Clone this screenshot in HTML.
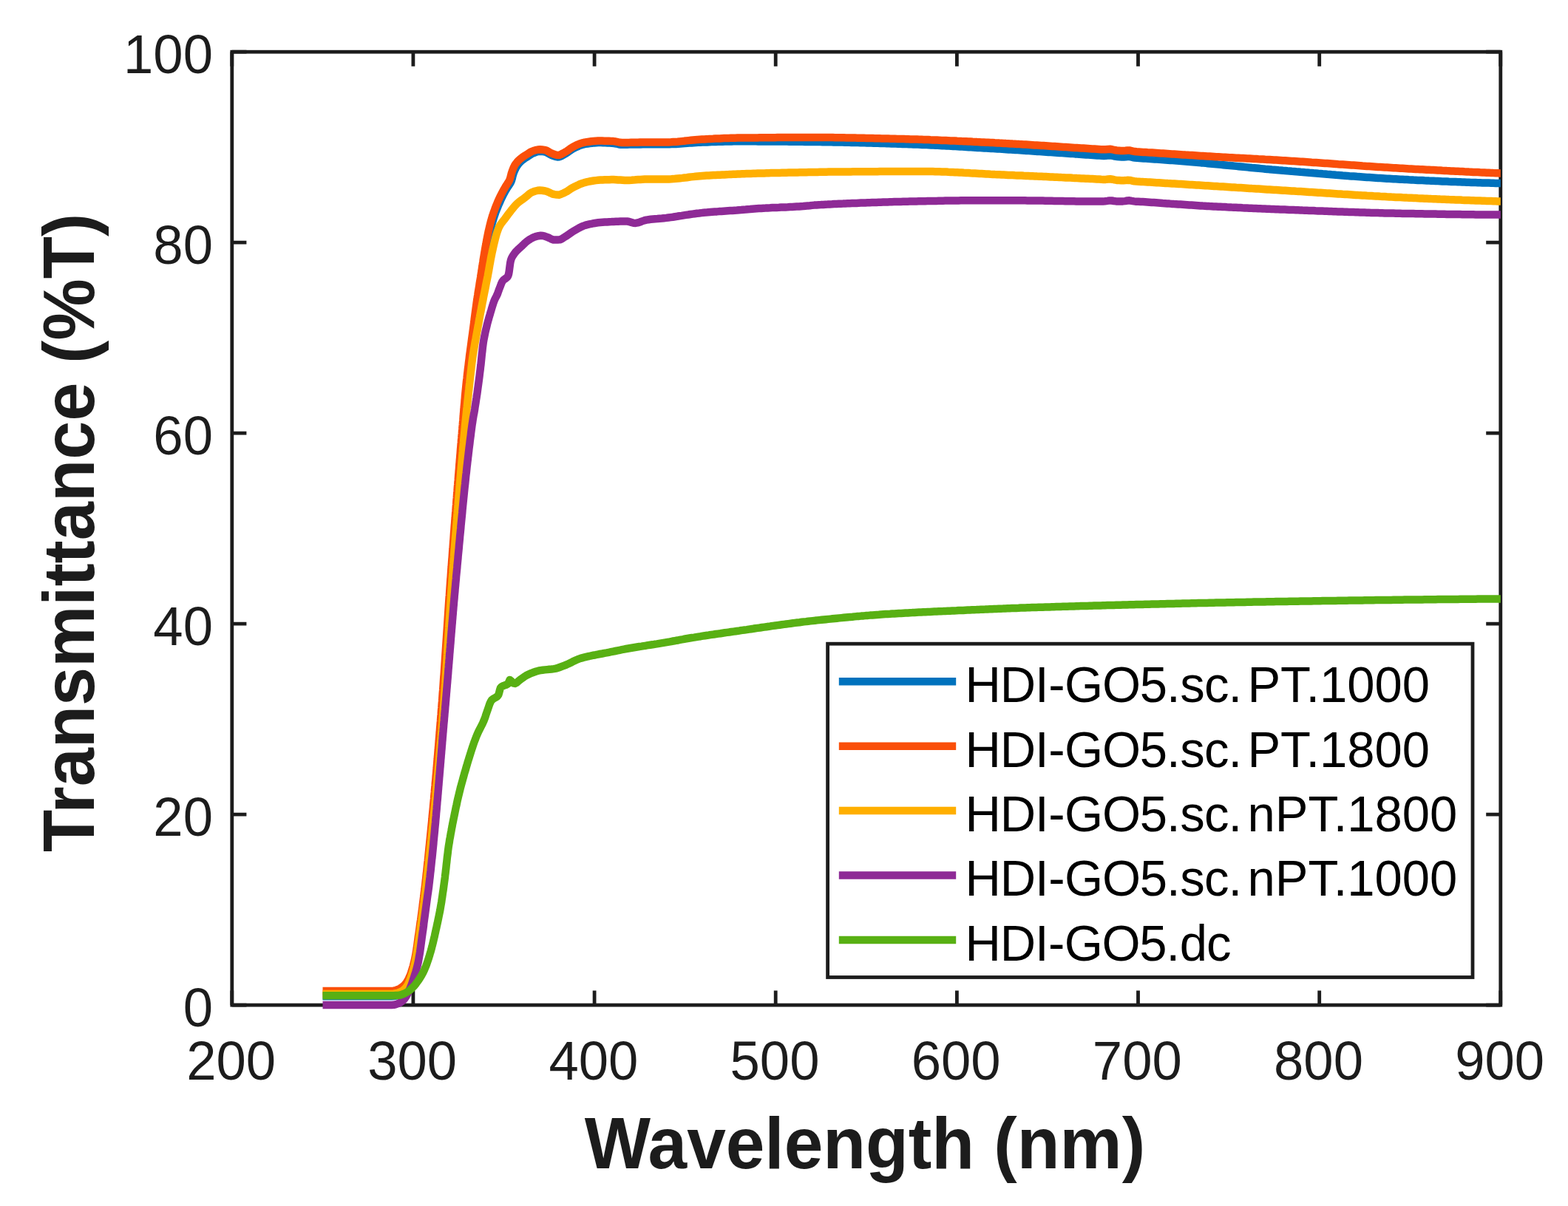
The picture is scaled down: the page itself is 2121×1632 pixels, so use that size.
<!DOCTYPE html>
<html lang="en">
<head>
<meta charset="utf-8">
<title>Transmittance vs Wavelength</title>
<style>
html,body{margin:0;padding:0;background:#fff;}
body{width:2121px;height:1632px;overflow:hidden;}
svg{display:block;}
text{font-family:"Liberation Sans",Arial,Helvetica,sans-serif;}
.tk{font-size:72.5px;fill:#1c1c1c;}
.lab{font-size:94.3px;font-weight:bold;fill:#1c1c1c;}
.leg{font-size:67.0px;fill:#000;}
</style>
</head>
<body>
<svg width="2121" height="1632" viewBox="0 0 2121 1632">
<rect x="0" y="0" width="2121" height="1632" fill="#ffffff"/>
<defs><clipPath id="plot"><rect x="313.8" y="50.2" width="1716.0" height="1329.9"/></clipPath></defs>

<g stroke="#1c1c1c" stroke-width="4.8" fill="none" stroke-linecap="butt">
<rect x="313.8" y="70.2" width="1716.0" height="1289.9"/>
<path d="M313.8,1360.1 v-19.6 M313.8,70.2 v19.6 M558.9,1360.1 v-19.6 M558.9,70.2 v19.6 M804.1,1360.1 v-19.6 M804.1,70.2 v19.6 M1049.2,1360.1 v-19.6 M1049.2,70.2 v19.6 M1294.4,1360.1 v-19.6 M1294.4,70.2 v19.6 M1539.5,1360.1 v-19.6 M1539.5,70.2 v19.6 M1784.7,1360.1 v-19.6 M1784.7,70.2 v19.6 M2029.8,1360.1 v-19.6 M2029.8,70.2 v19.6 M313.8,1360.1 h19.6 M2029.8,1360.1 h-19.6 M313.8,1102.1 h19.6 M2029.8,1102.1 h-19.6 M313.8,844.1 h19.6 M2029.8,844.1 h-19.6 M313.8,586.2 h19.6 M2029.8,586.2 h-19.6 M313.8,328.2 h19.6 M2029.8,328.2 h-19.6 M313.8,70.2 h19.6 M2029.8,70.2 h-19.6"/>
</g>
<g clip-path="url(#plot)" fill="none" stroke-width="10.5" stroke-linejoin="round" stroke-linecap="butt">
<path stroke="#0072bd" d="M436.5,1348.2 L439.5,1348.2 L442.5,1348.2 L445.5,1348.2 L448.5,1348.2 L451.5,1348.2 L454.5,1348.2 L457.5,1348.2 L460.5,1348.2 L463.5,1348.2 L466.5,1348.2 L469.5,1348.2 L472.5,1348.2 L475.5,1348.2 L478.5,1348.2 L481.5,1348.2 L484.5,1348.2 L487.5,1348.2 L490.5,1348.2 L493.6,1348.2 L496.6,1348.2 L499.6,1348.2 L502.6,1348.2 L505.6,1348.2 L508.6,1348.2 L511.6,1348.2 L514.6,1348.2 L517.6,1348.2 L520.6,1348.2 L523.6,1348.2 L526.6,1348.2 L529.5,1348.2 L532.6,1348.0 L535.6,1347.5 L538.6,1346.8 L541.3,1345.9 L543.9,1344.5 L546.3,1342.6 L548.6,1340.4 L550.4,1338.1 L552.0,1335.7 L553.4,1333.1 L554.6,1330.3 L555.7,1327.4 L556.7,1324.4 L557.6,1321.6 L558.5,1318.7 L559.3,1315.8 L560.0,1312.9 L560.7,1310.0 L561.3,1307.1 L561.9,1304.1 L562.5,1301.1 L563.1,1298.2 L563.6,1295.2 L564.2,1292.3 L564.7,1289.3 L565.1,1286.4 L565.6,1283.4 L566.1,1280.4 L566.5,1277.5 L566.9,1274.5 L567.3,1271.5 L567.7,1268.5 L568.2,1265.6 L568.6,1262.6 L569.0,1259.6 L569.4,1256.7 L569.8,1253.7 L570.3,1250.7 L570.7,1247.7 L571.1,1244.8 L571.5,1241.8 L571.9,1238.8 L572.3,1235.8 L572.7,1232.9 L573.1,1229.9 L573.5,1226.9 L573.9,1223.9 L574.3,1221.0 L574.6,1218.0 L575.0,1215.0 L575.4,1212.0 L575.8,1209.0 L576.1,1206.1 L576.5,1203.1 L576.8,1200.1 L577.2,1197.1 L577.5,1194.2 L577.9,1191.2 L578.2,1188.2 L578.5,1185.2 L578.9,1182.2 L579.2,1179.2 L579.5,1176.3 L579.8,1173.3 L580.1,1170.3 L580.5,1167.3 L580.8,1164.3 L581.1,1161.3 L581.4,1158.4 L581.7,1155.4 L582.0,1152.4 L582.3,1149.4 L582.6,1146.4 L583.0,1143.4 L583.3,1140.5 L583.6,1137.5 L583.9,1134.5 L584.2,1131.5 L584.4,1128.5 L584.7,1125.5 L585.0,1122.5 L585.3,1119.5 L585.6,1116.6 L585.9,1113.6 L586.2,1110.6 L586.5,1107.6 L586.8,1104.6 L587.0,1101.6 L587.3,1098.6 L587.6,1095.6 L587.9,1092.7 L588.2,1089.7 L588.4,1086.7 L588.7,1083.7 L589.0,1080.7 L589.3,1077.7 L589.5,1074.7 L589.8,1071.7 L590.1,1068.7 L590.3,1065.7 L590.6,1062.8 L590.9,1059.8 L591.1,1056.8 L591.4,1053.8 L591.7,1050.8 L591.9,1047.8 L592.2,1044.8 L592.4,1041.8 L592.7,1038.8 L592.9,1035.8 L593.2,1032.9 L593.5,1029.9 L593.7,1026.9 L594.0,1023.9 L594.2,1020.9 L594.5,1017.9 L594.7,1014.9 L595.0,1011.9 L595.2,1008.9 L595.5,1005.9 L595.7,1002.9 L595.9,999.9 L596.2,997.0 L596.4,994.0 L596.7,991.0 L596.9,988.0 L597.2,985.0 L597.4,982.0 L597.6,979.0 L597.9,976.0 L598.1,973.0 L598.4,970.0 L598.6,967.0 L598.8,964.1 L599.1,961.1 L599.3,958.1 L599.5,955.1 L599.7,952.1 L600.0,949.1 L600.2,946.1 L600.4,943.1 L600.6,940.1 L600.9,937.1 L601.1,934.1 L601.3,931.1 L601.5,928.1 L601.7,925.1 L601.9,922.2 L602.1,919.2 L602.4,916.2 L602.6,913.2 L602.8,910.2 L603.0,907.2 L603.2,904.2 L603.4,901.2 L603.6,898.2 L603.8,895.2 L604.0,892.2 L604.2,889.2 L604.4,886.2 L604.6,883.2 L604.8,880.2 L605.0,877.2 L605.2,874.2 L605.4,871.3 L605.6,868.3 L605.8,865.3 L606.0,862.3 L606.2,859.3 L606.4,856.3 L606.6,853.3 L606.8,850.3 L607.0,847.3 L607.2,844.3 L607.4,841.3 L607.6,838.3 L607.8,835.3 L608.0,832.3 L608.2,829.3 L608.4,826.3 L608.6,823.3 L608.8,820.3 L609.0,817.4 L609.2,814.4 L609.4,811.4 L609.6,808.4 L609.9,805.4 L610.1,802.4 L610.3,799.4 L610.5,796.4 L610.7,793.4 L610.9,790.4 L611.1,787.4 L611.3,784.4 L611.6,781.4 L611.8,778.4 L612.0,775.4 L612.2,772.4 L612.4,769.5 L612.7,766.5 L612.9,763.5 L613.1,760.5 L613.3,757.5 L613.5,754.5 L613.8,751.5 L614.0,748.5 L614.2,745.5 L614.4,742.5 L614.7,739.5 L614.9,736.5 L615.1,733.5 L615.3,730.5 L615.5,727.6 L615.8,724.6 L616.0,721.6 L616.2,718.6 L616.4,715.6 L616.7,712.6 L616.9,709.6 L617.1,706.6 L617.3,703.6 L617.6,700.6 L617.8,697.6 L618.0,694.6 L618.2,691.6 L618.5,688.6 L618.7,685.7 L618.9,682.7 L619.1,679.7 L619.4,676.7 L619.6,673.7 L619.8,670.7 L620.1,667.7 L620.3,664.7 L620.5,661.7 L620.8,658.7 L621.0,655.7 L621.2,652.7 L621.5,649.7 L621.7,646.8 L622.0,643.8 L622.2,640.8 L622.4,637.8 L622.7,634.8 L622.9,631.8 L623.2,628.8 L623.4,625.8 L623.6,622.8 L623.9,619.8 L624.1,616.8 L624.4,613.8 L624.6,610.9 L624.9,607.9 L625.1,604.9 L625.4,601.9 L625.6,598.9 L625.9,595.9 L626.2,592.9 L626.4,589.9 L626.7,586.9 L626.9,583.9 L627.2,581.0 L627.5,578.0 L627.7,575.0 L628.0,572.0 L628.3,569.0 L628.5,566.0 L628.8,563.0 L629.1,560.0 L629.4,557.0 L629.6,554.1 L629.9,551.1 L630.2,548.1 L630.5,545.1 L630.8,542.1 L631.1,539.1 L631.3,536.1 L631.6,533.1 L631.9,530.2 L632.2,527.2 L632.5,524.2 L632.8,521.2 L633.1,518.2 L633.4,515.2 L633.7,512.2 L634.1,509.3 L634.4,506.3 L634.7,503.3 L635.0,500.3 L635.3,497.3 L635.7,494.3 L636.0,491.4 L636.3,488.4 L636.7,485.4 L637.0,482.4 L637.4,479.4 L637.7,476.5 L638.1,473.5 L638.4,470.5 L638.8,467.5 L639.2,464.5 L639.5,461.6 L639.9,458.6 L640.3,455.6 L640.7,452.6 L641.1,449.7 L641.5,446.7 L641.9,443.7 L642.3,440.7 L642.7,437.8 L643.1,434.8 L643.5,431.8 L643.9,428.8 L644.3,425.9 L644.8,422.9 L645.2,419.9 L645.6,416.9 L646.1,414.0 L646.5,411.0 L646.9,408.0 L647.4,405.1 L647.8,402.1 L648.3,399.1 L648.7,396.2 L649.2,393.2 L649.7,390.2 L650.2,387.3 L650.7,384.3 L651.1,381.4 L651.6,378.4 L652.1,375.4 L652.6,372.5 L653.1,369.5 L653.5,366.5 L654.0,363.6 L654.4,360.6 L654.9,357.6 L655.4,354.7 L655.8,351.7 L656.3,348.7 L656.8,345.8 L657.3,342.8 L657.8,339.9 L658.3,336.9 L658.9,334.0 L659.4,331.0 L660.0,328.1 L660.6,325.1 L661.2,322.2 L661.8,319.2 L662.4,316.3 L663.0,313.3 L663.7,310.4 L664.4,307.5 L665.1,304.6 L665.9,301.7 L666.7,298.8 L667.5,296.0 L668.5,293.1 L669.4,290.3 L670.4,287.4 L671.5,284.6 L672.6,281.8 L673.7,279.0 L674.9,276.2 L676.1,273.5 L677.3,270.7 L678.6,268.0 L679.9,265.4 L681.3,262.7 L682.7,260.0 L684.2,257.4 L685.7,254.8 L687.4,252.3 L689.1,249.8 L690.7,247.2 L691.8,244.6 L692.7,241.7 L693.4,238.7 L694.2,235.8 L695.2,233.0 L696.4,230.2 L697.7,227.5 L699.2,224.9 L700.9,222.5 L702.9,220.1 L705.0,218.0 L707.3,216.1 L709.7,214.4 L712.3,212.8 L714.8,211.1 L717.3,209.5 L719.9,207.9 L722.7,206.8 L725.5,205.7 L728.4,204.9 L731.4,204.8 L734.4,205.1 L737.4,205.6 L740.1,206.6 L742.7,208.1 L745.4,209.6 L748.2,210.8 L751.1,211.8 L754.0,212.4 L756.9,212.2 L759.7,211.1 L762.4,209.5 L765.0,208.0 L767.5,206.4 L770.0,204.6 L772.5,202.9 L775.0,201.3 L777.6,199.9 L780.4,198.7 L783.2,197.4 L786.0,196.4 L788.9,195.5 L791.8,194.9 L794.7,194.5 L797.7,194.0 L800.7,193.7 L803.7,193.4 L806.7,193.2 L809.7,193.1 L812.7,193.1 L815.7,193.2 L818.7,193.3 L821.7,193.4 L824.7,193.5 L827.7,193.7 L830.7,194.0 L833.6,194.5 L836.6,195.2 L839.6,195.7 L842.5,195.7 L845.5,195.7 L848.5,195.7 L851.5,195.6 L854.5,195.6 L857.5,195.5 L860.5,195.5 L863.5,195.4 L866.5,195.4 L869.5,195.3 L872.6,195.3 L875.6,195.3 L878.6,195.3 L881.6,195.3 L884.6,195.3 L887.6,195.3 L890.6,195.3 L893.6,195.3 L896.6,195.3 L899.6,195.3 L902.6,195.3 L905.6,195.2 L908.6,195.1 L911.6,195.0 L914.6,194.9 L917.5,194.7 L920.5,194.5 L923.5,194.3 L926.5,194.1 L929.5,193.8 L932.5,193.6 L935.5,193.4 L938.5,193.2 L941.5,193.0 L944.5,192.8 L947.5,192.7 L950.5,192.6 L953.5,192.5 L956.5,192.4 L959.5,192.3 L962.5,192.1 L965.5,192.0 L968.5,191.9 L971.5,191.8 L974.5,191.7 L977.5,191.7 L980.5,191.6 L983.5,191.5 L986.5,191.4 L989.5,191.4 L992.5,191.3 L995.5,191.3 L998.5,191.3 L1001.5,191.3 L1004.5,191.3 L1007.5,191.3 L1010.5,191.3 L1013.5,191.3 L1016.5,191.3 L1019.5,191.3 L1022.5,191.3 L1025.5,191.4 L1028.5,191.4 L1031.5,191.4 L1034.5,191.4 L1037.5,191.4 L1040.5,191.4 L1043.5,191.5 L1046.5,191.5 L1049.5,191.5 L1052.5,191.5 L1055.5,191.6 L1058.5,191.6 L1061.5,191.6 L1064.5,191.6 L1067.5,191.7 L1070.5,191.7 L1073.5,191.7 L1076.5,191.8 L1079.5,191.8 L1082.5,191.8 L1085.5,191.8 L1088.5,191.9 L1091.5,191.9 L1094.5,191.9 L1097.5,192.0 L1100.5,192.0 L1103.5,192.0 L1106.5,192.1 L1109.6,192.1 L1112.6,192.2 L1115.6,192.2 L1118.6,192.2 L1121.6,192.3 L1124.6,192.3 L1127.6,192.4 L1130.6,192.5 L1133.6,192.5 L1136.6,192.6 L1139.6,192.6 L1142.6,192.7 L1145.6,192.8 L1148.6,192.8 L1151.6,192.9 L1154.6,193.0 L1157.6,193.0 L1160.6,193.1 L1163.6,193.2 L1166.6,193.3 L1169.6,193.3 L1172.6,193.4 L1175.6,193.5 L1178.6,193.6 L1181.6,193.7 L1184.6,193.7 L1187.6,193.8 L1190.6,193.9 L1193.6,194.0 L1196.6,194.1 L1199.6,194.2 L1202.6,194.3 L1205.6,194.4 L1208.6,194.5 L1211.6,194.6 L1214.6,194.7 L1217.6,194.8 L1220.6,194.9 L1223.6,195.0 L1226.6,195.1 L1229.6,195.2 L1232.6,195.3 L1235.6,195.4 L1238.6,195.5 L1241.5,195.6 L1244.5,195.7 L1247.5,195.9 L1250.5,196.0 L1253.5,196.1 L1256.5,196.3 L1259.5,196.4 L1262.5,196.6 L1265.5,196.7 L1268.5,196.8 L1271.5,197.0 L1274.5,197.2 L1277.5,197.3 L1280.5,197.5 L1283.5,197.6 L1286.5,197.8 L1289.5,198.0 L1292.5,198.1 L1295.5,198.3 L1298.5,198.5 L1301.5,198.6 L1304.5,198.8 L1307.5,199.0 L1310.5,199.2 L1313.5,199.3 L1316.5,199.5 L1319.5,199.7 L1322.5,199.9 L1325.5,200.1 L1328.5,200.2 L1331.5,200.4 L1334.5,200.6 L1337.5,200.8 L1340.4,200.9 L1343.4,201.1 L1346.4,201.3 L1349.4,201.5 L1352.4,201.6 L1355.4,201.8 L1358.4,202.0 L1361.4,202.2 L1364.4,202.4 L1367.4,202.5 L1370.4,202.7 L1373.4,202.9 L1376.4,203.1 L1379.4,203.3 L1382.4,203.5 L1385.4,203.7 L1388.4,203.9 L1391.4,204.1 L1394.4,204.3 L1397.4,204.5 L1400.4,204.7 L1403.3,204.9 L1406.3,205.1 L1409.3,205.3 L1412.3,205.5 L1415.3,205.7 L1418.3,205.9 L1421.3,206.1 L1424.3,206.3 L1427.3,206.5 L1430.3,206.7 L1433.3,206.9 L1436.3,207.1 L1439.3,207.3 L1442.3,207.5 L1445.3,207.7 L1448.3,207.9 L1451.3,208.1 L1454.3,208.4 L1457.2,208.6 L1460.2,208.8 L1463.2,209.0 L1466.2,209.2 L1469.2,209.4 L1472.2,209.6 L1475.2,209.8 L1478.2,210.0 L1481.2,210.2 L1484.2,210.4 L1487.2,210.5 L1490.2,210.7 L1493.2,210.9 L1496.2,210.8 L1499.2,210.4 L1502.2,210.3 L1505.2,210.9 L1508.2,211.6 L1511.2,212.0 L1514.1,212.3 L1517.1,212.4 L1520.1,212.5 L1523.1,212.2 L1526.1,211.9 L1529.1,212.2 L1532.1,213.0 L1535.1,213.5 L1538.1,213.8 L1541.1,214.0 L1544.1,214.2 L1547.1,214.4 L1550.1,214.6 L1553.1,214.8 L1556.1,215.0 L1559.1,215.2 L1562.1,215.4 L1565.1,215.6 L1568.1,215.8 L1571.0,216.0 L1574.0,216.2 L1577.0,216.5 L1580.0,216.7 L1583.0,216.9 L1586.0,217.1 L1589.0,217.3 L1592.0,217.6 L1595.0,217.8 L1598.0,218.0 L1601.0,218.3 L1604.0,218.5 L1606.9,218.8 L1609.9,219.0 L1612.9,219.3 L1615.9,219.6 L1618.9,219.8 L1621.9,220.1 L1624.9,220.4 L1627.9,220.6 L1630.9,220.9 L1633.8,221.2 L1636.8,221.5 L1639.8,221.7 L1642.8,222.0 L1645.8,222.3 L1648.8,222.6 L1651.8,222.9 L1654.8,223.2 L1657.8,223.5 L1660.7,223.8 L1663.7,224.0 L1666.7,224.3 L1669.7,224.6 L1672.7,224.9 L1675.7,225.2 L1678.7,225.5 L1681.6,225.8 L1684.6,226.1 L1687.6,226.4 L1690.6,226.7 L1693.6,227.0 L1696.6,227.2 L1699.6,227.5 L1702.6,227.8 L1705.6,228.1 L1708.5,228.4 L1711.5,228.7 L1714.5,228.9 L1717.5,229.2 L1720.5,229.5 L1723.5,229.7 L1726.5,230.0 L1729.5,230.3 L1732.5,230.5 L1735.4,230.8 L1738.4,231.0 L1741.4,231.3 L1744.4,231.5 L1747.4,231.8 L1750.4,232.0 L1753.4,232.3 L1756.4,232.5 L1759.4,232.8 L1762.4,233.0 L1765.3,233.3 L1768.3,233.5 L1771.3,233.8 L1774.3,234.0 L1777.3,234.3 L1780.3,234.5 L1783.3,234.8 L1786.3,235.0 L1789.3,235.3 L1792.3,235.5 L1795.3,235.8 L1798.3,236.0 L1801.2,236.3 L1804.2,236.5 L1807.2,236.8 L1810.2,237.0 L1813.2,237.2 L1816.2,237.5 L1819.2,237.7 L1822.2,237.9 L1825.2,238.2 L1828.2,238.4 L1831.2,238.6 L1834.2,238.8 L1837.2,239.1 L1840.2,239.3 L1843.1,239.5 L1846.1,239.7 L1849.1,239.9 L1852.1,240.1 L1855.1,240.3 L1858.1,240.5 L1861.1,240.7 L1864.1,240.9 L1867.1,241.1 L1870.1,241.3 L1873.1,241.5 L1876.1,241.7 L1879.1,241.8 L1882.1,242.0 L1885.1,242.2 L1888.1,242.3 L1891.1,242.5 L1894.1,242.7 L1897.1,242.8 L1900.0,243.0 L1903.0,243.1 L1906.0,243.3 L1909.0,243.4 L1912.0,243.6 L1915.0,243.7 L1918.0,243.9 L1921.0,244.0 L1924.0,244.1 L1927.0,244.3 L1930.0,244.4 L1933.0,244.6 L1936.0,244.7 L1939.0,244.8 L1942.0,245.0 L1945.0,245.1 L1948.0,245.2 L1951.0,245.4 L1954.0,245.5 L1957.0,245.6 L1960.0,245.8 L1963.0,245.9 L1966.0,246.0 L1969.0,246.1 L1972.0,246.2 L1975.0,246.3 L1978.0,246.5 L1981.0,246.6 L1984.0,246.7 L1987.0,246.8 L1990.0,246.9 L1993.0,247.0 L1996.0,247.1 L1999.0,247.2 L2002.0,247.3 L2005.0,247.4 L2008.0,247.5 L2011.0,247.6 L2014.0,247.6 L2017.0,247.7 L2020.0,247.8 L2023.0,247.9 L2026.0,248.0 L2029.0,248.0 L2032.0,248.1"/>
<path stroke="#fa4f0a" d="M436.5,1341.0 L439.5,1341.0 L442.5,1341.0 L445.5,1341.0 L448.5,1341.0 L451.5,1341.0 L454.5,1341.0 L457.5,1341.0 L460.5,1341.0 L463.5,1341.0 L466.5,1341.0 L469.5,1341.0 L472.5,1341.0 L475.5,1341.0 L478.5,1341.0 L481.5,1341.0 L484.5,1341.0 L487.5,1341.0 L490.5,1341.0 L493.5,1341.0 L496.6,1341.0 L499.6,1341.0 L502.6,1341.0 L505.6,1341.0 L508.6,1341.0 L511.6,1341.0 L514.6,1341.0 L517.6,1341.0 L520.6,1341.0 L523.6,1341.0 L526.6,1341.0 L529.6,1341.0 L532.6,1340.7 L535.5,1340.0 L538.4,1338.9 L541.0,1337.7 L543.6,1336.0 L546.0,1334.0 L548.1,1331.8 L549.8,1329.6 L551.4,1327.0 L552.8,1324.3 L554.0,1321.5 L555.2,1318.7 L556.2,1315.9 L557.1,1313.0 L558.0,1310.2 L558.9,1307.3 L559.6,1304.3 L560.3,1301.4 L561.0,1298.5 L561.6,1295.5 L562.2,1292.6 L562.7,1289.6 L563.2,1286.7 L563.6,1283.7 L564.1,1280.7 L564.5,1277.8 L564.9,1274.8 L565.3,1271.8 L565.7,1268.8 L566.1,1265.8 L566.6,1262.9 L567.0,1259.9 L567.4,1256.9 L567.8,1254.0 L568.2,1251.0 L568.6,1248.0 L569.1,1245.0 L569.5,1242.1 L569.9,1239.1 L570.3,1236.1 L570.7,1233.1 L571.1,1230.1 L571.5,1227.2 L571.8,1224.2 L572.2,1221.2 L572.6,1218.2 L573.0,1215.3 L573.4,1212.3 L573.7,1209.3 L574.1,1206.3 L574.5,1203.3 L574.8,1200.4 L575.2,1197.4 L575.5,1194.4 L575.8,1191.4 L576.2,1188.4 L576.5,1185.4 L576.8,1182.5 L577.2,1179.5 L577.5,1176.5 L577.8,1173.5 L578.1,1170.5 L578.4,1167.5 L578.8,1164.6 L579.1,1161.6 L579.4,1158.6 L579.7,1155.6 L580.0,1152.6 L580.3,1149.6 L580.6,1146.6 L580.9,1143.7 L581.2,1140.7 L581.5,1137.7 L581.8,1134.7 L582.1,1131.7 L582.4,1128.7 L582.7,1125.7 L583.0,1122.7 L583.3,1119.8 L583.6,1116.8 L583.9,1113.8 L584.2,1110.8 L584.5,1107.8 L584.7,1104.8 L585.0,1101.8 L585.3,1098.8 L585.6,1095.8 L585.9,1092.8 L586.1,1089.9 L586.4,1086.9 L586.7,1083.9 L587.0,1080.9 L587.2,1077.9 L587.5,1074.9 L587.8,1071.9 L588.0,1068.9 L588.3,1065.9 L588.6,1062.9 L588.8,1059.9 L589.1,1057.0 L589.4,1054.0 L589.6,1051.0 L589.9,1048.0 L590.2,1045.0 L590.4,1042.0 L590.7,1039.0 L590.9,1036.0 L591.2,1033.0 L591.4,1030.0 L591.7,1027.0 L591.9,1024.0 L592.2,1021.0 L592.4,1018.1 L592.7,1015.1 L592.9,1012.1 L593.2,1009.1 L593.4,1006.1 L593.7,1003.1 L593.9,1000.1 L594.2,997.1 L594.4,994.1 L594.7,991.1 L594.9,988.1 L595.1,985.1 L595.4,982.1 L595.6,979.1 L595.9,976.2 L596.1,973.2 L596.3,970.2 L596.6,967.2 L596.8,964.2 L597.0,961.2 L597.3,958.2 L597.5,955.2 L597.7,952.2 L598.0,949.2 L598.2,946.2 L598.4,943.2 L598.6,940.2 L598.8,937.2 L599.1,934.2 L599.3,931.3 L599.5,928.3 L599.7,925.3 L599.9,922.3 L600.1,919.3 L600.3,916.3 L600.6,913.3 L600.8,910.3 L601.0,907.3 L601.2,904.3 L601.4,901.3 L601.6,898.3 L601.8,895.3 L602.0,892.3 L602.2,889.3 L602.4,886.3 L602.6,883.3 L602.8,880.3 L603.0,877.3 L603.2,874.3 L603.4,871.3 L603.6,868.3 L603.8,865.3 L604.0,862.4 L604.2,859.4 L604.4,856.4 L604.6,853.4 L604.8,850.4 L605.0,847.4 L605.2,844.4 L605.4,841.4 L605.6,838.4 L605.8,835.4 L606.0,832.4 L606.2,829.4 L606.4,826.4 L606.6,823.4 L606.8,820.4 L607.0,817.4 L607.2,814.4 L607.4,811.4 L607.6,808.4 L607.9,805.4 L608.1,802.4 L608.3,799.4 L608.5,796.4 L608.7,793.4 L608.9,790.5 L609.1,787.5 L609.3,784.5 L609.6,781.5 L609.8,778.5 L610.0,775.5 L610.2,772.5 L610.4,769.5 L610.7,766.5 L610.9,763.5 L611.1,760.5 L611.3,757.5 L611.6,754.5 L611.8,751.5 L612.0,748.5 L612.2,745.5 L612.5,742.5 L612.7,739.6 L612.9,736.6 L613.1,733.6 L613.4,730.6 L613.6,727.6 L613.8,724.6 L614.0,721.6 L614.3,718.6 L614.5,715.6 L614.7,712.6 L615.0,709.6 L615.2,706.6 L615.4,703.6 L615.7,700.6 L615.9,697.6 L616.1,694.6 L616.4,691.7 L616.6,688.7 L616.8,685.7 L617.1,682.7 L617.3,679.7 L617.5,676.7 L617.8,673.7 L618.0,670.7 L618.2,667.7 L618.5,664.7 L618.7,661.7 L618.9,658.7 L619.2,655.7 L619.4,652.7 L619.7,649.7 L619.9,646.8 L620.1,643.8 L620.4,640.8 L620.6,637.8 L620.9,634.8 L621.1,631.8 L621.3,628.8 L621.6,625.8 L621.8,622.8 L622.1,619.8 L622.3,616.8 L622.6,613.8 L622.8,610.8 L623.0,607.8 L623.3,604.9 L623.5,601.9 L623.8,598.9 L624.0,595.9 L624.3,592.9 L624.5,589.9 L624.8,586.9 L625.0,583.9 L625.3,580.9 L625.5,577.9 L625.8,574.9 L626.0,571.9 L626.3,568.9 L626.5,566.0 L626.7,563.0 L627.0,560.0 L627.2,557.0 L627.5,554.0 L627.7,551.0 L628.0,548.0 L628.3,545.0 L628.5,542.0 L628.8,539.0 L629.0,536.0 L629.3,533.0 L629.6,530.1 L629.9,527.1 L630.2,524.1 L630.5,521.1 L630.8,518.1 L631.1,515.1 L631.5,512.1 L631.8,509.2 L632.1,506.2 L632.5,503.2 L632.8,500.2 L633.2,497.2 L633.6,494.2 L633.9,491.3 L634.3,488.3 L634.7,485.3 L635.0,482.3 L635.4,479.3 L635.8,476.4 L636.2,473.4 L636.6,470.4 L637.0,467.4 L637.4,464.5 L637.8,461.5 L638.2,458.5 L638.6,455.5 L639.0,452.6 L639.4,449.6 L639.8,446.6 L640.2,443.6 L640.6,440.7 L641.0,437.7 L641.4,434.7 L641.7,431.7 L642.1,428.7 L642.5,425.8 L642.9,422.8 L643.3,419.8 L643.7,416.8 L644.1,413.9 L644.5,410.9 L644.9,407.9 L645.4,404.9 L645.8,402.0 L646.3,399.0 L646.7,396.0 L647.2,393.1 L647.7,390.1 L648.2,387.1 L648.6,384.2 L649.1,381.2 L649.6,378.3 L650.1,375.3 L650.5,372.3 L651.0,369.4 L651.5,366.4 L651.9,363.4 L652.4,360.4 L652.8,357.5 L653.3,354.5 L653.7,351.5 L654.2,348.6 L654.7,345.6 L655.2,342.6 L655.7,339.7 L656.2,336.7 L656.7,333.8 L657.3,330.8 L657.8,327.9 L658.4,324.9 L658.9,322.0 L659.5,319.0 L660.1,316.0 L660.7,313.1 L661.4,310.2 L662.1,307.2 L662.8,304.3 L663.5,301.4 L664.3,298.5 L665.1,295.7 L665.9,292.8 L666.9,289.9 L667.8,287.1 L668.9,284.3 L669.9,281.4 L671.0,278.6 L672.2,275.8 L673.3,273.1 L674.5,270.3 L675.8,267.6 L677.1,264.9 L678.5,262.2 L679.9,259.6 L681.3,256.9 L682.8,254.3 L684.3,251.7 L686.0,249.2 L687.6,246.7 L689.1,244.0 L690.1,241.3 L690.9,238.4 L691.6,235.4 L692.5,232.6 L693.5,229.7 L694.7,226.9 L696.0,224.2 L697.6,221.7 L699.4,219.4 L701.5,217.1 L703.7,215.1 L706.0,213.3 L708.5,211.5 L711.1,209.9 L713.6,208.3 L716.2,206.6 L718.8,205.1 L721.5,204.1 L724.4,203.2 L727.4,202.5 L730.4,202.3 L733.4,202.5 L736.4,202.9 L739.2,203.6 L741.8,205.1 L744.5,206.7 L747.2,207.9 L750.1,209.0 L753.0,209.8 L755.9,209.9 L758.7,209.0 L761.5,207.5 L764.1,206.0 L766.7,204.5 L769.2,202.7 L771.6,200.9 L774.1,199.3 L776.7,197.9 L779.4,196.6 L782.2,195.3 L785.0,194.2 L787.9,193.3 L790.8,192.6 L793.7,192.1 L796.7,191.7 L799.7,191.3 L802.7,191.0 L805.7,190.7 L808.7,190.6 L811.7,190.6 L814.7,190.6 L817.7,190.7 L820.7,190.7 L823.7,190.8 L826.7,190.9 L829.7,191.1 L832.7,191.5 L835.6,192.2 L838.6,192.8 L841.6,193.0 L844.5,193.0 L847.5,193.0 L850.5,192.9 L853.5,192.8 L856.5,192.8 L859.6,192.7 L862.6,192.7 L865.6,192.6 L868.6,192.5 L871.6,192.5 L874.6,192.5 L877.6,192.5 L880.6,192.5 L883.6,192.5 L886.6,192.5 L889.6,192.5 L892.6,192.5 L895.6,192.5 L898.6,192.5 L901.6,192.5 L904.6,192.4 L907.6,192.3 L910.6,192.1 L913.6,191.9 L916.6,191.7 L919.6,191.4 L922.6,191.1 L925.6,190.8 L928.5,190.4 L931.5,190.1 L934.5,189.8 L937.5,189.5 L940.5,189.2 L943.5,188.9 L946.5,188.7 L949.5,188.5 L952.5,188.4 L955.5,188.2 L958.5,188.1 L961.5,187.9 L964.5,187.8 L967.5,187.6 L970.5,187.5 L973.5,187.4 L976.5,187.2 L979.5,187.1 L982.5,187.0 L985.5,186.9 L988.5,186.8 L991.5,186.8 L994.5,186.7 L997.5,186.6 L1000.5,186.6 L1003.5,186.6 L1006.5,186.5 L1009.5,186.5 L1012.5,186.5 L1015.5,186.4 L1018.5,186.4 L1021.5,186.4 L1024.5,186.4 L1027.5,186.3 L1030.5,186.3 L1033.5,186.3 L1036.5,186.3 L1039.5,186.2 L1042.5,186.2 L1045.5,186.2 L1048.5,186.2 L1051.5,186.1 L1054.5,186.1 L1057.5,186.1 L1060.5,186.1 L1063.6,186.1 L1066.6,186.1 L1069.6,186.1 L1072.6,186.0 L1075.6,186.0 L1078.6,186.0 L1081.6,186.0 L1084.6,186.0 L1087.6,186.0 L1090.6,186.0 L1093.6,186.0 L1096.6,186.0 L1099.6,186.0 L1102.6,186.0 L1105.6,186.0 L1108.6,186.0 L1111.6,186.0 L1114.6,186.0 L1117.6,186.1 L1120.6,186.1 L1123.6,186.1 L1126.6,186.1 L1129.6,186.2 L1132.6,186.2 L1135.6,186.3 L1138.6,186.3 L1141.6,186.3 L1144.6,186.4 L1147.6,186.4 L1150.6,186.5 L1153.6,186.5 L1156.6,186.6 L1159.6,186.7 L1162.6,186.7 L1165.6,186.8 L1168.6,186.8 L1171.6,186.9 L1174.6,187.0 L1177.6,187.0 L1180.6,187.1 L1183.7,187.2 L1186.7,187.2 L1189.7,187.3 L1192.7,187.4 L1195.7,187.5 L1198.7,187.5 L1201.7,187.6 L1204.7,187.7 L1207.7,187.8 L1210.7,187.8 L1213.7,187.9 L1216.7,188.0 L1219.7,188.1 L1222.7,188.1 L1225.7,188.2 L1228.7,188.3 L1231.7,188.4 L1234.7,188.5 L1237.7,188.5 L1240.7,188.6 L1243.7,188.7 L1246.7,188.8 L1249.7,188.9 L1252.7,189.0 L1255.7,189.1 L1258.7,189.3 L1261.7,189.4 L1264.7,189.5 L1267.7,189.6 L1270.7,189.7 L1273.7,189.9 L1276.7,190.0 L1279.7,190.1 L1282.7,190.2 L1285.7,190.4 L1288.7,190.5 L1291.7,190.6 L1294.7,190.8 L1297.7,190.9 L1300.7,191.1 L1303.7,191.2 L1306.7,191.3 L1309.7,191.5 L1312.7,191.6 L1315.7,191.8 L1318.7,191.9 L1321.7,192.1 L1324.7,192.2 L1327.7,192.4 L1330.7,192.5 L1333.7,192.7 L1336.7,192.8 L1339.7,193.0 L1342.7,193.1 L1345.7,193.3 L1348.7,193.4 L1351.7,193.6 L1354.7,193.7 L1357.7,193.9 L1360.7,194.1 L1363.7,194.2 L1366.7,194.4 L1369.7,194.6 L1372.7,194.7 L1375.6,194.9 L1378.6,195.1 L1381.6,195.2 L1384.6,195.4 L1387.6,195.6 L1390.6,195.8 L1393.6,196.0 L1396.6,196.2 L1399.6,196.4 L1402.6,196.5 L1405.6,196.7 L1408.6,196.9 L1411.6,197.1 L1414.6,197.3 L1417.6,197.5 L1420.6,197.7 L1423.6,197.9 L1426.6,198.1 L1429.6,198.3 L1432.6,198.5 L1435.6,198.7 L1438.6,198.9 L1441.6,199.1 L1444.6,199.3 L1447.6,199.5 L1450.6,199.7 L1453.6,199.9 L1456.6,200.1 L1459.6,200.3 L1462.5,200.5 L1465.5,200.6 L1468.5,200.8 L1471.5,201.0 L1474.5,201.2 L1477.5,201.4 L1480.5,201.6 L1483.5,201.8 L1486.5,202.0 L1489.5,202.2 L1492.5,202.3 L1495.5,202.3 L1498.5,202.0 L1501.5,201.8 L1504.5,202.2 L1507.5,203.0 L1510.5,203.5 L1513.5,203.7 L1516.5,203.9 L1519.5,204.0 L1522.5,203.8 L1525.5,203.4 L1528.5,203.6 L1531.5,204.3 L1534.5,205.0 L1537.5,205.3 L1540.5,205.5 L1543.5,205.7 L1546.4,205.9 L1549.4,206.1 L1552.4,206.3 L1555.4,206.4 L1558.4,206.6 L1561.4,206.8 L1564.4,207.0 L1567.4,207.2 L1570.4,207.4 L1573.4,207.6 L1576.4,207.8 L1579.4,208.0 L1582.4,208.2 L1585.4,208.4 L1588.4,208.6 L1591.4,208.8 L1594.4,209.0 L1597.4,209.2 L1600.4,209.4 L1603.4,209.6 L1606.4,209.7 L1609.4,209.9 L1612.4,210.1 L1615.4,210.3 L1618.4,210.5 L1621.4,210.7 L1624.3,210.9 L1627.3,211.1 L1630.3,211.3 L1633.3,211.5 L1636.3,211.6 L1639.3,211.8 L1642.3,212.0 L1645.3,212.2 L1648.3,212.3 L1651.3,212.5 L1654.3,212.7 L1657.3,212.8 L1660.3,213.0 L1663.3,213.2 L1666.3,213.3 L1669.3,213.5 L1672.3,213.7 L1675.3,213.8 L1678.3,214.0 L1681.3,214.1 L1684.3,214.3 L1687.3,214.5 L1690.3,214.6 L1693.3,214.8 L1696.3,215.0 L1699.3,215.1 L1702.3,215.3 L1705.3,215.4 L1708.3,215.6 L1711.3,215.8 L1714.3,215.9 L1717.3,216.1 L1720.3,216.3 L1723.3,216.5 L1726.3,216.6 L1729.3,216.8 L1732.3,217.0 L1735.3,217.2 L1738.3,217.3 L1741.3,217.5 L1744.3,217.7 L1747.3,217.9 L1750.3,218.1 L1753.2,218.3 L1756.2,218.5 L1759.2,218.7 L1762.2,218.8 L1765.2,219.0 L1768.2,219.2 L1771.2,219.4 L1774.2,219.7 L1777.2,219.9 L1780.2,220.1 L1783.2,220.3 L1786.2,220.5 L1789.2,220.7 L1792.2,220.9 L1795.2,221.1 L1798.2,221.3 L1801.2,221.5 L1804.2,221.7 L1807.2,221.9 L1810.2,222.2 L1813.2,222.4 L1816.2,222.6 L1819.2,222.8 L1822.1,223.0 L1825.1,223.2 L1828.1,223.4 L1831.1,223.6 L1834.1,223.8 L1837.1,224.0 L1840.1,224.2 L1843.1,224.5 L1846.1,224.7 L1849.1,224.9 L1852.1,225.1 L1855.1,225.3 L1858.1,225.5 L1861.1,225.7 L1864.1,225.9 L1867.1,226.0 L1870.1,226.2 L1873.1,226.4 L1876.1,226.6 L1879.1,226.8 L1882.1,227.0 L1885.1,227.2 L1888.1,227.3 L1891.1,227.5 L1894.1,227.7 L1897.1,227.8 L1900.1,228.0 L1903.0,228.2 L1906.0,228.4 L1909.0,228.5 L1912.0,228.7 L1915.0,228.9 L1918.0,229.0 L1921.0,229.2 L1924.0,229.3 L1927.0,229.5 L1930.0,229.7 L1933.0,229.8 L1936.0,230.0 L1939.0,230.1 L1942.0,230.3 L1945.0,230.5 L1948.0,230.6 L1951.0,230.8 L1954.0,230.9 L1957.0,231.1 L1960.0,231.2 L1963.0,231.4 L1966.0,231.5 L1969.0,231.7 L1972.0,231.8 L1975.0,232.0 L1978.0,232.1 L1981.0,232.3 L1984.0,232.4 L1987.0,232.6 L1990.0,232.7 L1993.0,232.9 L1996.0,233.0 L1999.0,233.1 L2002.0,233.3 L2005.0,233.4 L2008.0,233.5 L2011.0,233.7 L2014.0,233.8 L2017.0,233.9 L2020.0,234.1 L2023.0,234.2 L2026.0,234.3 L2029.0,234.5 L2032.0,234.6"/>
<path stroke="#ffaf00" d="M436.5,1345.0 L439.5,1345.0 L442.5,1345.0 L445.5,1345.0 L448.5,1345.0 L451.5,1345.0 L454.5,1345.0 L457.5,1345.0 L460.5,1345.0 L463.5,1345.0 L466.5,1345.0 L469.5,1345.0 L472.5,1345.0 L475.5,1345.0 L478.5,1345.0 L481.5,1345.0 L484.5,1345.0 L487.5,1345.0 L490.5,1345.0 L493.5,1345.0 L496.6,1345.0 L499.6,1345.0 L502.6,1345.0 L505.6,1345.0 L508.6,1345.0 L511.6,1345.0 L514.6,1345.0 L517.6,1345.0 L520.6,1345.0 L523.6,1345.0 L526.6,1345.0 L529.5,1345.0 L532.5,1344.8 L535.6,1344.3 L538.5,1343.5 L541.2,1342.5 L543.9,1341.1 L546.4,1339.2 L548.6,1337.0 L550.3,1334.9 L551.8,1332.4 L553.2,1329.7 L554.4,1326.8 L555.5,1323.9 L556.5,1321.0 L557.4,1318.2 L558.3,1315.3 L559.1,1312.4 L559.9,1309.5 L560.6,1306.6 L561.3,1303.7 L561.9,1300.7 L562.5,1297.8 L563.1,1294.8 L563.6,1291.9 L564.1,1288.9 L564.6,1286.0 L565.1,1283.0 L565.5,1280.0 L565.9,1277.1 L566.4,1274.1 L566.8,1271.1 L567.2,1268.1 L567.6,1265.2 L568.0,1262.2 L568.5,1259.2 L568.9,1256.3 L569.3,1253.3 L569.7,1250.3 L570.2,1247.3 L570.6,1244.4 L571.0,1241.4 L571.4,1238.4 L571.8,1235.4 L572.2,1232.5 L572.6,1229.5 L573.0,1226.5 L573.4,1223.5 L573.8,1220.6 L574.1,1217.6 L574.5,1214.6 L574.9,1211.6 L575.3,1208.7 L575.6,1205.7 L576.0,1202.7 L576.4,1199.7 L576.7,1196.7 L577.1,1193.8 L577.4,1190.8 L577.8,1187.8 L578.1,1184.8 L578.4,1181.8 L578.8,1178.9 L579.1,1175.9 L579.4,1172.9 L579.8,1169.9 L580.1,1166.9 L580.4,1164.0 L580.8,1161.0 L581.1,1158.0 L581.4,1155.0 L581.8,1152.0 L582.1,1149.0 L582.4,1146.1 L582.7,1143.1 L583.0,1140.1 L583.4,1137.1 L583.7,1134.1 L584.0,1131.1 L584.3,1128.2 L584.6,1125.2 L584.9,1122.2 L585.2,1119.2 L585.6,1116.2 L585.9,1113.2 L586.2,1110.2 L586.5,1107.3 L586.8,1104.3 L587.1,1101.3 L587.4,1098.3 L587.7,1095.3 L588.0,1092.3 L588.3,1089.3 L588.6,1086.3 L588.9,1083.4 L589.2,1080.4 L589.5,1077.4 L589.7,1074.4 L590.0,1071.4 L590.3,1068.4 L590.6,1065.4 L590.9,1062.4 L591.2,1059.5 L591.5,1056.5 L591.7,1053.5 L592.0,1050.5 L592.3,1047.5 L592.6,1044.5 L592.8,1041.5 L593.1,1038.5 L593.4,1035.6 L593.7,1032.6 L593.9,1029.6 L594.2,1026.6 L594.5,1023.6 L594.7,1020.6 L595.0,1017.6 L595.3,1014.6 L595.5,1011.6 L595.8,1008.6 L596.0,1005.7 L596.3,1002.7 L596.5,999.7 L596.8,996.7 L597.0,993.7 L597.3,990.7 L597.6,987.7 L597.8,984.7 L598.0,981.7 L598.3,978.7 L598.5,975.8 L598.8,972.8 L599.0,969.8 L599.3,966.8 L599.5,963.8 L599.7,960.8 L600.0,957.8 L600.2,954.8 L600.4,951.8 L600.6,948.8 L600.9,945.8 L601.1,942.9 L601.3,939.9 L601.5,936.9 L601.7,933.9 L601.9,930.9 L602.1,927.9 L602.4,924.9 L602.6,921.9 L602.8,918.9 L603.0,915.9 L603.2,912.9 L603.4,909.9 L603.6,906.9 L603.8,903.9 L604.0,900.9 L604.2,897.9 L604.4,895.0 L604.6,892.0 L604.8,889.0 L605.0,886.0 L605.1,883.0 L605.3,880.0 L605.5,877.0 L605.7,874.0 L605.9,871.0 L606.1,868.0 L606.3,865.0 L606.5,862.0 L606.7,859.0 L606.9,856.0 L607.1,853.0 L607.3,850.0 L607.4,847.0 L607.6,844.0 L607.8,841.0 L608.0,838.0 L608.2,835.1 L608.4,832.1 L608.6,829.1 L608.8,826.1 L609.0,823.1 L609.2,820.1 L609.4,817.1 L609.6,814.1 L609.8,811.1 L610.0,808.1 L610.2,805.1 L610.4,802.1 L610.6,799.1 L610.8,796.1 L611.1,793.1 L611.3,790.1 L611.5,787.1 L611.7,784.2 L611.9,781.2 L612.1,778.2 L612.4,775.2 L612.6,772.2 L612.8,769.2 L613.0,766.2 L613.3,763.2 L613.5,760.2 L613.7,757.2 L614.0,754.2 L614.2,751.2 L614.4,748.2 L614.6,745.3 L614.9,742.3 L615.1,739.3 L615.3,736.3 L615.6,733.3 L615.8,730.3 L616.0,727.3 L616.3,724.3 L616.5,721.3 L616.8,718.3 L617.0,715.3 L617.2,712.3 L617.5,709.4 L617.7,706.4 L618.0,703.4 L618.2,700.4 L618.4,697.4 L618.7,694.4 L618.9,691.4 L619.2,688.4 L619.4,685.4 L619.7,682.4 L619.9,679.4 L620.2,676.5 L620.4,673.5 L620.7,670.5 L620.9,667.5 L621.2,664.5 L621.4,661.5 L621.7,658.5 L621.9,655.5 L622.2,652.5 L622.4,649.5 L622.7,646.5 L623.0,643.6 L623.2,640.6 L623.5,637.6 L623.7,634.6 L624.0,631.6 L624.3,628.6 L624.5,625.6 L624.8,622.6 L625.1,619.6 L625.3,616.7 L625.6,613.7 L625.9,610.7 L626.1,607.7 L626.4,604.7 L626.7,601.7 L627.0,598.7 L627.2,595.7 L627.5,592.8 L627.8,589.8 L628.1,586.8 L628.4,583.8 L628.7,580.8 L628.9,577.8 L629.2,574.8 L629.5,571.8 L629.8,568.9 L630.1,565.9 L630.4,562.9 L630.7,559.9 L631.0,556.9 L631.3,553.9 L631.7,550.9 L632.0,548.0 L632.3,545.0 L632.6,542.0 L633.0,539.0 L633.3,536.0 L633.6,533.0 L633.9,530.1 L634.3,527.1 L634.6,524.1 L634.9,521.1 L635.3,518.1 L635.6,515.1 L635.9,512.2 L636.2,509.2 L636.6,506.2 L636.9,503.2 L637.3,500.2 L637.6,497.2 L638.0,494.3 L638.3,491.3 L638.7,488.3 L639.1,485.3 L639.5,482.4 L639.9,479.4 L640.4,476.4 L640.9,473.5 L641.4,470.5 L641.9,467.6 L642.4,464.6 L642.9,461.7 L643.5,458.7 L644.0,455.7 L644.6,452.8 L645.1,449.8 L645.7,446.9 L646.2,443.9 L646.7,441.0 L647.3,438.0 L647.8,435.1 L648.3,432.1 L648.9,429.2 L649.4,426.2 L650.0,423.3 L650.6,420.3 L651.1,417.4 L651.7,414.4 L652.2,411.5 L652.8,408.5 L653.4,405.6 L653.9,402.6 L654.5,399.7 L655.1,396.8 L655.7,393.8 L656.3,390.9 L656.9,387.9 L657.4,385.0 L658.0,382.0 L658.6,379.1 L659.2,376.2 L659.8,373.2 L660.3,370.3 L660.9,367.3 L661.4,364.4 L661.9,361.4 L662.4,358.4 L663.0,355.5 L663.5,352.5 L664.0,349.6 L664.6,346.6 L665.2,343.7 L665.8,340.8 L666.5,337.8 L667.1,334.9 L667.8,331.9 L668.5,328.9 L669.2,326.0 L669.9,323.0 L670.7,320.1 L671.5,317.2 L672.4,314.3 L673.4,311.5 L674.4,308.8 L675.6,306.2 L677.1,303.7 L678.9,301.2 L680.8,298.8 L682.7,296.4 L684.5,294.0 L686.2,291.6 L688.0,289.1 L689.9,286.8 L691.7,284.4 L693.6,282.1 L695.5,279.7 L697.5,277.5 L699.6,275.4 L701.9,273.4 L704.2,271.6 L706.7,269.9 L709.2,268.1 L711.6,266.2 L713.9,264.2 L716.2,262.2 L718.7,260.6 L721.3,259.5 L724.2,258.5 L727.2,257.8 L730.2,257.5 L733.2,257.7 L736.2,258.2 L739.1,258.8 L741.8,259.9 L744.6,261.3 L747.3,262.5 L750.3,263.1 L753.3,263.6 L756.2,263.7 L759.0,262.8 L761.9,261.5 L764.6,260.2 L767.2,258.8 L769.7,257.1 L772.2,255.4 L774.8,253.9 L777.5,252.5 L780.2,251.2 L782.9,249.9 L785.7,248.7 L788.5,247.7 L791.4,246.9 L794.3,246.2 L797.2,245.5 L800.2,245.0 L803.1,244.5 L806.1,244.1 L809.1,243.8 L812.1,243.6 L815.1,243.5 L818.1,243.3 L821.1,243.2 L824.1,243.2 L827.1,243.1 L830.1,243.1 L833.1,243.2 L836.1,243.4 L839.1,243.6 L842.1,243.8 L845.1,244.0 L848.1,244.0 L851.1,243.9 L854.1,243.8 L857.1,243.6 L860.1,243.3 L863.1,243.1 L866.1,242.9 L869.1,242.7 L872.1,242.5 L875.1,242.5 L878.1,242.5 L881.1,242.5 L884.1,242.5 L887.1,242.5 L890.1,242.5 L893.1,242.5 L896.1,242.5 L899.1,242.5 L902.1,242.5 L905.1,242.4 L908.0,242.3 L911.0,242.1 L914.0,241.8 L917.0,241.5 L920.0,241.2 L923.0,240.9 L926.0,240.5 L929.0,240.2 L931.9,239.8 L934.9,239.4 L937.9,239.1 L940.9,238.8 L943.9,238.5 L946.9,238.2 L949.9,238.0 L952.9,237.8 L955.9,237.6 L958.9,237.5 L961.9,237.3 L964.8,237.1 L967.8,237.0 L970.8,236.8 L973.8,236.7 L976.8,236.5 L979.8,236.4 L982.8,236.2 L985.8,236.1 L988.8,235.9 L991.8,235.8 L994.8,235.7 L997.8,235.5 L1000.8,235.4 L1003.8,235.3 L1006.8,235.2 L1009.8,235.1 L1012.8,235.0 L1015.8,234.9 L1018.8,234.8 L1021.8,234.7 L1024.8,234.6 L1027.8,234.5 L1030.8,234.4 L1033.8,234.4 L1036.8,234.3 L1039.8,234.2 L1042.8,234.1 L1045.8,234.1 L1048.8,234.0 L1051.8,233.9 L1054.8,233.9 L1057.8,233.8 L1060.8,233.7 L1063.8,233.7 L1066.8,233.6 L1069.8,233.6 L1072.8,233.5 L1075.8,233.4 L1078.8,233.4 L1081.8,233.3 L1084.8,233.3 L1087.8,233.2 L1090.8,233.2 L1093.8,233.1 L1096.8,233.1 L1099.8,233.0 L1102.8,232.9 L1105.8,232.9 L1108.8,232.8 L1111.8,232.8 L1114.8,232.7 L1117.8,232.7 L1120.8,232.6 L1123.8,232.6 L1126.8,232.5 L1129.8,232.5 L1132.8,232.5 L1135.8,232.5 L1138.8,232.4 L1141.8,232.4 L1144.8,232.4 L1147.8,232.4 L1150.8,232.4 L1153.8,232.3 L1156.8,232.3 L1159.8,232.3 L1162.8,232.3 L1165.8,232.3 L1168.8,232.2 L1171.8,232.2 L1174.8,232.2 L1177.8,232.2 L1180.8,232.2 L1183.8,232.2 L1186.9,232.2 L1189.9,232.1 L1192.9,232.1 L1195.9,232.1 L1198.9,232.1 L1201.9,232.1 L1204.9,232.1 L1207.9,232.1 L1210.9,232.1 L1213.9,232.1 L1216.9,232.0 L1219.9,232.0 L1222.9,232.0 L1225.9,232.0 L1228.9,232.0 L1231.9,232.0 L1234.9,232.0 L1237.9,232.0 L1240.9,232.0 L1243.9,232.0 L1246.9,232.0 L1249.9,232.0 L1252.9,232.0 L1255.9,232.0 L1258.9,232.1 L1261.9,232.1 L1264.9,232.2 L1267.9,232.2 L1270.9,232.3 L1273.9,232.4 L1276.9,232.5 L1279.9,232.6 L1282.8,232.8 L1285.8,232.9 L1288.8,233.0 L1291.8,233.2 L1294.8,233.3 L1297.8,233.5 L1300.8,233.6 L1303.8,233.8 L1306.8,233.9 L1309.8,234.1 L1312.8,234.3 L1315.8,234.4 L1318.8,234.6 L1321.8,234.8 L1324.8,235.0 L1327.8,235.1 L1330.8,235.3 L1333.8,235.5 L1336.8,235.6 L1339.8,235.8 L1342.8,235.9 L1345.8,236.1 L1348.8,236.2 L1351.8,236.3 L1354.8,236.5 L1357.8,236.6 L1360.8,236.7 L1363.8,236.9 L1366.8,237.0 L1369.8,237.1 L1372.8,237.3 L1375.8,237.4 L1378.8,237.5 L1381.8,237.6 L1384.8,237.8 L1387.8,237.9 L1390.8,238.0 L1393.8,238.2 L1396.8,238.3 L1399.8,238.4 L1402.8,238.6 L1405.8,238.7 L1408.8,238.8 L1411.8,239.0 L1414.8,239.1 L1417.8,239.2 L1420.8,239.4 L1423.8,239.5 L1426.7,239.7 L1429.7,239.8 L1432.7,239.9 L1435.7,240.1 L1438.7,240.2 L1441.7,240.4 L1444.7,240.5 L1447.7,240.6 L1450.7,240.8 L1453.7,240.9 L1456.7,241.1 L1459.7,241.2 L1462.7,241.4 L1465.7,241.5 L1468.7,241.7 L1471.7,241.8 L1474.7,242.0 L1477.7,242.1 L1480.7,242.3 L1483.7,242.5 L1486.7,242.6 L1489.7,242.8 L1492.7,242.9 L1495.7,242.9 L1498.7,242.5 L1501.7,242.2 L1504.7,242.7 L1507.7,243.4 L1510.7,243.9 L1513.7,244.1 L1516.7,244.3 L1519.6,244.3 L1522.6,244.1 L1525.6,243.7 L1528.6,243.9 L1531.6,244.7 L1534.6,245.2 L1537.6,245.5 L1540.6,245.7 L1543.6,245.9 L1546.6,246.1 L1549.6,246.2 L1552.6,246.4 L1555.6,246.6 L1558.6,246.8 L1561.6,247.0 L1564.6,247.2 L1567.6,247.3 L1570.6,247.5 L1573.6,247.7 L1576.6,247.9 L1579.6,248.1 L1582.6,248.2 L1585.5,248.4 L1588.5,248.6 L1591.5,248.8 L1594.5,249.0 L1597.5,249.1 L1600.5,249.3 L1603.5,249.5 L1606.5,249.7 L1609.5,249.9 L1612.5,250.0 L1615.5,250.2 L1618.5,250.4 L1621.5,250.6 L1624.5,250.8 L1627.5,251.0 L1630.5,251.2 L1633.5,251.3 L1636.5,251.5 L1639.5,251.7 L1642.5,251.9 L1645.5,252.1 L1648.4,252.3 L1651.4,252.4 L1654.4,252.6 L1657.4,252.8 L1660.4,253.0 L1663.4,253.2 L1666.4,253.4 L1669.4,253.6 L1672.4,253.8 L1675.4,253.9 L1678.4,254.1 L1681.4,254.3 L1684.4,254.5 L1687.4,254.7 L1690.4,254.9 L1693.4,255.1 L1696.4,255.2 L1699.4,255.4 L1702.4,255.6 L1705.4,255.8 L1708.4,256.0 L1711.3,256.2 L1714.3,256.4 L1717.3,256.5 L1720.3,256.7 L1723.3,256.9 L1726.3,257.1 L1729.3,257.3 L1732.3,257.5 L1735.3,257.7 L1738.3,257.8 L1741.3,258.0 L1744.3,258.2 L1747.3,258.4 L1750.3,258.6 L1753.3,258.8 L1756.3,258.9 L1759.3,259.1 L1762.3,259.3 L1765.3,259.5 L1768.3,259.7 L1771.2,259.9 L1774.2,260.1 L1777.2,260.3 L1780.2,260.5 L1783.2,260.7 L1786.2,260.8 L1789.2,261.0 L1792.2,261.2 L1795.2,261.4 L1798.2,261.6 L1801.2,261.8 L1804.2,262.0 L1807.2,262.2 L1810.2,262.4 L1813.2,262.6 L1816.2,262.8 L1819.2,262.9 L1822.2,263.1 L1825.2,263.3 L1828.2,263.5 L1831.1,263.7 L1834.1,263.9 L1837.1,264.1 L1840.1,264.2 L1843.1,264.4 L1846.1,264.6 L1849.1,264.8 L1852.1,264.9 L1855.1,265.1 L1858.1,265.3 L1861.1,265.4 L1864.1,265.6 L1867.1,265.8 L1870.1,265.9 L1873.1,266.1 L1876.1,266.3 L1879.1,266.4 L1882.1,266.6 L1885.1,266.7 L1888.1,266.9 L1891.1,267.0 L1894.1,267.1 L1897.1,267.3 L1900.1,267.4 L1903.1,267.6 L1906.1,267.7 L1909.1,267.8 L1912.1,268.0 L1915.0,268.1 L1918.0,268.3 L1921.0,268.4 L1924.0,268.5 L1927.0,268.7 L1930.0,268.8 L1933.0,268.9 L1936.0,269.1 L1939.0,269.2 L1942.0,269.3 L1945.0,269.4 L1948.0,269.6 L1951.0,269.7 L1954.0,269.8 L1957.0,269.9 L1960.0,270.1 L1963.0,270.2 L1966.0,270.3 L1969.0,270.4 L1972.0,270.5 L1975.0,270.6 L1978.0,270.8 L1981.0,270.9 L1984.0,271.0 L1987.0,271.1 L1990.0,271.2 L1993.0,271.3 L1996.0,271.4 L1999.0,271.5 L2002.0,271.6 L2005.0,271.7 L2008.0,271.8 L2011.0,271.9 L2014.0,272.0 L2017.0,272.1 L2020.0,272.2 L2023.0,272.3 L2026.0,272.4 L2029.0,272.5 L2032.0,272.6"/>
<path stroke="#8e2a96" d="M436.5,1360.0 L439.5,1360.0 L442.5,1360.0 L445.5,1360.0 L448.5,1360.0 L451.5,1360.0 L454.5,1360.0 L457.5,1360.0 L460.5,1360.0 L463.5,1360.0 L466.5,1360.0 L469.5,1360.0 L472.5,1360.0 L475.5,1360.0 L478.5,1360.0 L481.5,1360.0 L484.6,1360.0 L487.6,1360.0 L490.6,1360.0 L493.6,1360.0 L496.6,1360.0 L499.6,1360.0 L502.7,1360.0 L505.7,1360.0 L508.7,1360.0 L511.7,1360.0 L514.7,1360.0 L517.7,1360.0 L520.7,1360.0 L523.7,1360.0 L526.6,1360.0 L529.6,1360.0 L532.6,1359.8 L535.6,1359.1 L538.4,1358.1 L541.1,1356.9 L543.6,1355.1 L545.9,1353.0 L547.8,1350.9 L549.5,1348.4 L550.9,1345.7 L552.3,1342.9 L553.5,1340.2 L554.7,1337.5 L555.8,1334.7 L556.9,1331.8 L557.9,1329.0 L558.8,1326.1 L559.8,1323.3 L560.7,1320.4 L561.6,1317.6 L562.5,1314.7 L563.3,1311.8 L564.1,1308.9 L564.8,1306.0 L565.5,1303.1 L566.1,1300.1 L566.6,1297.2 L567.1,1294.2 L567.6,1291.3 L568.1,1288.3 L568.5,1285.3 L568.9,1282.4 L569.3,1279.4 L569.7,1276.4 L570.1,1273.4 L570.5,1270.4 L570.9,1267.4 L571.3,1264.5 L571.7,1261.5 L572.2,1258.5 L572.6,1255.5 L573.0,1252.6 L573.3,1249.6 L573.7,1246.6 L574.1,1243.6 L574.5,1240.7 L574.9,1237.7 L575.3,1234.7 L575.7,1231.7 L576.1,1228.7 L576.5,1225.8 L576.9,1222.8 L577.3,1219.8 L577.7,1216.8 L578.1,1213.9 L578.5,1210.9 L579.0,1207.9 L579.4,1204.9 L579.8,1202.0 L580.2,1199.0 L580.5,1196.0 L580.9,1193.0 L581.2,1190.0 L581.6,1187.1 L581.9,1184.1 L582.2,1181.1 L582.6,1178.1 L582.9,1175.1 L583.2,1172.1 L583.5,1169.2 L583.8,1166.2 L584.1,1163.2 L584.5,1160.2 L584.8,1157.2 L585.1,1154.2 L585.4,1151.2 L585.7,1148.3 L586.0,1145.3 L586.3,1142.3 L586.5,1139.3 L586.8,1136.3 L587.1,1133.3 L587.4,1130.3 L587.7,1127.3 L588.0,1124.3 L588.2,1121.4 L588.5,1118.4 L588.8,1115.4 L589.1,1112.4 L589.3,1109.4 L589.6,1106.4 L589.9,1103.4 L590.1,1100.4 L590.4,1097.4 L590.7,1094.4 L590.9,1091.4 L591.2,1088.4 L591.4,1085.5 L591.7,1082.5 L592.0,1079.5 L592.2,1076.5 L592.5,1073.5 L592.7,1070.5 L593.0,1067.5 L593.2,1064.5 L593.5,1061.5 L593.7,1058.5 L594.0,1055.5 L594.2,1052.5 L594.5,1049.5 L594.7,1046.5 L595.0,1043.5 L595.2,1040.6 L595.5,1037.6 L595.7,1034.6 L596.0,1031.6 L596.2,1028.6 L596.5,1025.6 L596.7,1022.6 L597.0,1019.6 L597.2,1016.6 L597.5,1013.6 L597.7,1010.6 L598.0,1007.6 L598.2,1004.6 L598.5,1001.6 L598.7,998.6 L599.0,995.6 L599.2,992.7 L599.5,989.7 L599.7,986.7 L600.0,983.7 L600.2,980.7 L600.5,977.7 L600.8,974.7 L601.0,971.7 L601.3,968.7 L601.5,965.7 L601.8,962.7 L602.1,959.7 L602.3,956.7 L602.6,953.8 L602.8,950.8 L603.1,947.8 L603.3,944.8 L603.6,941.8 L603.8,938.8 L604.1,935.8 L604.3,932.8 L604.6,929.8 L604.8,926.8 L605.1,923.8 L605.3,920.8 L605.6,917.8 L605.8,914.8 L606.1,911.9 L606.3,908.9 L606.5,905.9 L606.8,902.9 L607.0,899.9 L607.3,896.9 L607.5,893.9 L607.8,890.9 L608.0,887.9 L608.2,884.9 L608.5,881.9 L608.7,878.9 L609.0,875.9 L609.2,872.9 L609.5,869.9 L609.7,867.0 L609.9,864.0 L610.2,861.0 L610.4,858.0 L610.7,855.0 L610.9,852.0 L611.2,849.0 L611.4,846.0 L611.7,843.0 L611.9,840.0 L612.2,837.0 L612.4,834.0 L612.7,831.0 L612.9,828.0 L613.2,825.0 L613.4,822.1 L613.7,819.1 L613.9,816.1 L614.2,813.1 L614.5,810.1 L614.7,807.1 L615.0,804.1 L615.3,801.1 L615.5,798.1 L615.8,795.1 L616.1,792.1 L616.3,789.2 L616.6,786.2 L616.9,783.2 L617.1,780.2 L617.4,777.2 L617.7,774.2 L618.0,771.2 L618.3,768.2 L618.5,765.2 L618.8,762.2 L619.1,759.2 L619.4,756.3 L619.6,753.3 L619.9,750.3 L620.2,747.3 L620.5,744.3 L620.8,741.3 L621.0,738.3 L621.3,735.3 L621.6,732.3 L621.9,729.3 L622.1,726.3 L622.4,723.4 L622.7,720.4 L623.0,717.4 L623.3,714.4 L623.5,711.4 L623.8,708.4 L624.1,705.4 L624.4,702.4 L624.7,699.4 L625.0,696.4 L625.3,693.4 L625.5,690.4 L625.8,687.5 L626.1,684.5 L626.4,681.5 L626.7,678.5 L627.0,675.5 L627.3,672.5 L627.6,669.5 L627.9,666.5 L628.2,663.5 L628.5,660.5 L628.8,657.6 L629.2,654.6 L629.5,651.6 L629.8,648.6 L630.1,645.6 L630.4,642.6 L630.8,639.6 L631.1,636.7 L631.4,633.7 L631.7,630.7 L632.1,627.7 L632.4,624.7 L632.8,621.7 L633.1,618.7 L633.5,615.8 L633.8,612.8 L634.2,609.8 L634.5,606.8 L634.9,603.8 L635.3,600.9 L635.6,597.9 L636.0,594.9 L636.4,591.9 L636.8,589.0 L637.1,586.0 L637.5,583.0 L637.9,580.0 L638.3,577.1 L638.7,574.1 L639.2,571.1 L639.6,568.2 L640.1,565.2 L640.6,562.2 L641.2,559.3 L641.7,556.3 L642.2,553.3 L642.6,550.4 L643.1,547.4 L643.6,544.4 L644.0,541.5 L644.5,538.5 L644.9,535.5 L645.4,532.6 L645.8,529.6 L646.2,526.6 L646.6,523.6 L647.0,520.7 L647.4,517.7 L647.8,514.7 L648.2,511.7 L648.6,508.8 L648.9,505.8 L649.3,502.8 L649.7,499.8 L650.0,496.8 L650.4,493.9 L650.7,490.9 L651.0,487.9 L651.3,484.9 L651.6,481.9 L651.9,478.9 L652.3,475.9 L652.6,472.9 L652.9,470.0 L653.3,467.0 L653.7,464.0 L654.2,461.0 L654.7,458.1 L655.3,455.1 L655.9,452.2 L656.5,449.3 L657.2,446.3 L657.9,443.4 L658.6,440.5 L659.3,437.6 L660.1,434.7 L660.9,431.8 L661.7,428.9 L662.6,426.0 L663.4,423.1 L664.3,420.2 L665.1,417.4 L666.0,414.5 L666.9,411.6 L667.8,408.8 L668.9,406.0 L670.2,403.3 L671.6,400.6 L672.9,397.9 L673.9,395.1 L674.9,392.2 L676.0,389.4 L677.1,386.6 L678.1,383.7 L679.4,381.0 L681.2,378.8 L683.9,376.9 L686.3,375.0 L687.5,372.8 L688.2,370.1 L688.7,367.2 L689.1,364.1 L689.5,361.0 L689.9,357.8 L690.4,354.7 L691.1,351.8 L692.1,349.0 L693.6,346.4 L695.3,343.8 L697.1,341.4 L699.1,339.2 L701.3,337.1 L703.5,335.1 L705.7,333.1 L707.9,331.0 L710.1,328.9 L712.4,326.9 L714.8,325.1 L717.3,323.5 L720.0,322.0 L722.7,320.7 L725.5,319.9 L728.5,319.2 L731.5,318.8 L734.4,318.9 L737.3,319.8 L740.2,320.9 L743.0,322.0 L745.7,323.5 L748.5,324.4 L751.5,324.4 L754.6,324.4 L757.4,324.3 L760.2,323.1 L762.8,321.4 L765.4,319.8 L767.9,318.1 L770.4,316.4 L772.9,314.7 L775.4,313.0 L778.0,311.5 L780.6,310.0 L783.2,308.5 L785.9,307.1 L788.7,305.9 L791.5,304.9 L794.3,304.1 L797.2,303.4 L800.2,302.8 L803.1,302.2 L806.1,301.7 L809.1,301.3 L812.1,301.0 L815.1,300.8 L818.1,300.6 L821.1,300.4 L824.1,300.2 L827.1,300.1 L830.1,299.9 L833.1,299.8 L836.1,299.7 L839.1,299.6 L842.1,299.5 L845.1,299.4 L848.1,299.4 L851.0,300.0 L854.0,300.9 L856.9,301.7 L859.8,301.9 L862.7,301.4 L865.6,300.5 L868.5,299.4 L871.4,298.4 L874.3,297.6 L877.2,297.2 L880.2,296.8 L883.2,296.5 L886.2,296.2 L889.2,296.0 L892.2,295.7 L895.2,295.5 L898.2,295.2 L901.2,294.9 L904.1,294.5 L907.1,294.1 L910.1,293.7 L913.1,293.2 L916.0,292.8 L919.0,292.3 L922.0,291.9 L925.0,291.4 L927.9,290.9 L930.9,290.5 L933.9,290.0 L936.8,289.6 L939.8,289.2 L942.8,288.8 L945.8,288.5 L948.8,288.1 L951.7,287.8 L954.7,287.6 L957.7,287.3 L960.7,287.0 L963.7,286.8 L966.7,286.6 L969.7,286.4 L972.7,286.1 L975.7,285.9 L978.7,285.7 L981.7,285.5 L984.7,285.3 L987.7,285.1 L990.7,284.9 L993.7,284.7 L996.7,284.5 L999.7,284.2 L1002.6,284.0 L1005.6,283.7 L1008.6,283.5 L1011.6,283.2 L1014.6,283.0 L1017.6,282.7 L1020.6,282.5 L1023.6,282.3 L1026.6,282.1 L1029.6,281.9 L1032.6,281.7 L1035.6,281.6 L1038.6,281.4 L1041.6,281.3 L1044.6,281.1 L1047.6,281.0 L1050.6,280.9 L1053.6,280.8 L1056.6,280.6 L1059.6,280.5 L1062.6,280.4 L1065.6,280.3 L1068.6,280.1 L1071.6,280.0 L1074.6,279.8 L1077.6,279.6 L1080.6,279.5 L1083.6,279.2 L1086.6,279.0 L1089.6,278.7 L1092.6,278.4 L1095.5,278.2 L1098.5,277.9 L1101.5,277.6 L1104.5,277.4 L1107.5,277.2 L1110.5,277.1 L1113.5,276.9 L1116.5,276.7 L1119.5,276.6 L1122.5,276.4 L1125.5,276.3 L1128.5,276.1 L1131.5,276.0 L1134.5,275.8 L1137.5,275.7 L1140.5,275.6 L1143.5,275.4 L1146.5,275.3 L1149.5,275.2 L1152.5,275.1 L1155.5,275.0 L1158.5,274.9 L1161.5,274.7 L1164.5,274.6 L1167.5,274.5 L1170.5,274.4 L1173.5,274.3 L1176.5,274.2 L1179.5,274.1 L1182.5,274.0 L1185.5,273.9 L1188.5,273.8 L1191.5,273.7 L1194.5,273.6 L1197.5,273.5 L1200.5,273.4 L1203.5,273.3 L1206.5,273.2 L1209.6,273.1 L1212.6,273.1 L1215.6,273.0 L1218.6,272.9 L1221.6,272.8 L1224.6,272.7 L1227.6,272.7 L1230.6,272.6 L1233.6,272.5 L1236.6,272.5 L1239.6,272.4 L1242.6,272.3 L1245.6,272.3 L1248.6,272.2 L1251.6,272.2 L1254.6,272.1 L1257.6,272.0 L1260.6,272.0 L1263.6,271.9 L1266.6,271.9 L1269.6,271.8 L1272.6,271.7 L1275.6,271.7 L1278.6,271.6 L1281.6,271.6 L1284.6,271.5 L1287.6,271.5 L1290.6,271.4 L1293.6,271.4 L1296.6,271.4 L1299.6,271.3 L1302.6,271.3 L1305.6,271.3 L1308.6,271.2 L1311.6,271.2 L1314.6,271.2 L1317.6,271.2 L1320.6,271.2 L1323.7,271.2 L1326.7,271.2 L1329.7,271.2 L1332.7,271.2 L1335.7,271.2 L1338.7,271.2 L1341.7,271.2 L1344.7,271.2 L1347.7,271.2 L1350.7,271.2 L1353.7,271.2 L1356.7,271.2 L1359.7,271.2 L1362.7,271.3 L1365.7,271.3 L1368.7,271.3 L1371.7,271.3 L1374.7,271.3 L1377.7,271.3 L1380.7,271.3 L1383.7,271.3 L1386.7,271.3 L1389.7,271.4 L1392.7,271.4 L1395.7,271.4 L1398.7,271.5 L1401.7,271.5 L1404.7,271.5 L1407.7,271.6 L1410.7,271.6 L1413.7,271.7 L1416.7,271.7 L1419.8,271.8 L1422.8,271.8 L1425.8,271.9 L1428.8,272.0 L1431.8,272.0 L1434.8,272.1 L1437.8,272.1 L1440.8,272.2 L1443.8,272.2 L1446.8,272.3 L1449.8,272.3 L1452.8,272.3 L1455.8,272.4 L1458.8,272.4 L1461.8,272.4 L1464.8,272.5 L1467.8,272.5 L1470.8,272.5 L1473.8,272.5 L1476.8,272.5 L1479.8,272.5 L1482.8,272.5 L1485.8,272.5 L1488.8,272.5 L1491.8,272.5 L1494.8,272.3 L1497.8,271.9 L1500.8,271.4 L1503.8,271.5 L1506.8,272.0 L1509.8,272.4 L1512.9,272.5 L1515.9,272.5 L1518.9,272.4 L1521.9,272.1 L1524.9,271.5 L1527.9,271.3 L1530.9,271.9 L1533.9,272.4 L1536.9,272.7 L1539.9,272.8 L1542.9,273.0 L1545.9,273.1 L1548.9,273.3 L1551.9,273.5 L1554.9,273.7 L1557.8,273.9 L1560.8,274.1 L1563.8,274.3 L1566.8,274.5 L1569.8,274.7 L1572.8,275.0 L1575.8,275.2 L1578.8,275.4 L1581.8,275.6 L1584.8,275.9 L1587.8,276.1 L1590.8,276.2 L1593.8,276.4 L1596.8,276.6 L1599.8,276.8 L1602.8,277.0 L1605.8,277.2 L1608.8,277.4 L1611.8,277.6 L1614.8,277.8 L1617.8,278.0 L1620.8,278.2 L1623.8,278.4 L1626.8,278.6 L1629.8,278.7 L1632.8,278.9 L1635.8,279.1 L1638.8,279.2 L1641.8,279.4 L1644.8,279.5 L1647.8,279.7 L1650.8,279.8 L1653.8,280.0 L1656.8,280.1 L1659.8,280.3 L1662.8,280.4 L1665.8,280.6 L1668.8,280.7 L1671.8,280.8 L1674.8,281.0 L1677.8,281.1 L1680.8,281.3 L1683.8,281.4 L1686.8,281.5 L1689.8,281.7 L1692.8,281.8 L1695.8,281.9 L1698.8,282.0 L1701.8,282.2 L1704.8,282.3 L1707.8,282.4 L1710.8,282.5 L1713.8,282.7 L1716.8,282.8 L1719.8,282.9 L1722.8,283.0 L1725.8,283.2 L1728.8,283.3 L1731.8,283.4 L1734.8,283.5 L1737.8,283.6 L1740.8,283.7 L1743.8,283.9 L1746.8,284.0 L1749.8,284.1 L1752.8,284.2 L1755.8,284.3 L1758.8,284.4 L1761.8,284.6 L1764.8,284.7 L1767.8,284.8 L1770.8,284.9 L1773.8,285.0 L1776.8,285.1 L1779.8,285.3 L1782.8,285.4 L1785.8,285.5 L1788.8,285.6 L1791.8,285.7 L1794.8,285.8 L1797.8,286.0 L1800.8,286.1 L1803.8,286.2 L1806.8,286.3 L1809.8,286.4 L1812.8,286.5 L1815.8,286.6 L1818.8,286.7 L1821.8,286.8 L1824.8,286.9 L1827.8,287.0 L1830.8,287.1 L1833.8,287.2 L1836.8,287.3 L1839.8,287.4 L1842.8,287.5 L1845.8,287.6 L1848.8,287.7 L1851.8,287.8 L1854.8,287.9 L1857.8,288.0 L1860.8,288.1 L1863.8,288.1 L1866.8,288.2 L1869.8,288.3 L1872.9,288.4 L1875.9,288.4 L1878.9,288.5 L1881.9,288.6 L1884.9,288.6 L1887.9,288.7 L1890.9,288.7 L1893.9,288.8 L1896.9,288.9 L1899.9,288.9 L1902.9,289.0 L1905.9,289.0 L1908.9,289.1 L1911.9,289.1 L1914.9,289.2 L1917.9,289.2 L1920.9,289.3 L1923.9,289.3 L1926.9,289.4 L1929.9,289.5 L1932.9,289.5 L1935.9,289.6 L1938.9,289.6 L1941.9,289.6 L1944.9,289.7 L1947.9,289.7 L1950.9,289.8 L1953.9,289.8 L1956.9,289.9 L1959.9,289.9 L1962.9,290.0 L1965.9,290.0 L1968.9,290.0 L1971.9,290.1 L1974.9,290.1 L1977.9,290.2 L1980.9,290.2 L1983.9,290.2 L1986.9,290.3 L1990.0,290.3 L1993.0,290.3 L1996.0,290.4 L1999.0,290.4 L2002.0,290.4 L2005.0,290.4 L2008.0,290.5 L2011.0,290.5 L2014.0,290.5 L2017.0,290.5 L2020.0,290.5 L2023.0,290.6 L2026.0,290.6 L2029.0,290.6 L2032.0,290.6"/>
<path stroke="#58b013" d="M436.5,1347.2 L439.5,1347.2 L442.5,1347.2 L445.5,1347.2 L448.5,1347.2 L451.5,1347.2 L454.5,1347.2 L457.5,1347.2 L460.5,1347.2 L463.5,1347.2 L466.5,1347.2 L469.5,1347.2 L472.5,1347.2 L475.5,1347.2 L478.5,1347.2 L481.5,1347.2 L484.5,1347.2 L487.5,1347.2 L490.5,1347.2 L493.5,1347.2 L496.5,1347.2 L499.5,1347.2 L502.5,1347.2 L505.5,1347.2 L508.5,1347.2 L511.5,1347.2 L514.5,1347.2 L517.5,1347.2 L520.5,1347.2 L523.5,1347.2 L526.5,1347.2 L529.5,1347.2 L532.6,1347.2 L535.6,1347.0 L538.6,1346.9 L541.5,1346.5 L544.4,1345.5 L547.2,1344.4 L549.8,1343.0 L552.4,1341.4 L554.8,1339.5 L557.0,1337.5 L559.1,1335.4 L561.1,1333.2 L563.0,1330.8 L564.8,1328.3 L566.5,1325.9 L568.1,1323.4 L569.7,1320.8 L571.2,1318.2 L572.6,1315.5 L573.9,1312.8 L575.0,1310.1 L576.2,1307.3 L577.2,1304.5 L578.2,1301.6 L579.2,1298.8 L580.1,1295.9 L581.0,1293.0 L581.8,1290.1 L582.7,1287.3 L583.5,1284.4 L584.2,1281.5 L585.0,1278.6 L585.7,1275.7 L586.4,1272.7 L587.1,1269.8 L587.8,1266.9 L588.4,1264.0 L589.1,1261.0 L589.7,1258.1 L590.4,1255.2 L591.0,1252.2 L591.7,1249.3 L592.3,1246.4 L592.9,1243.4 L593.5,1240.5 L594.1,1237.5 L594.7,1234.6 L595.3,1231.6 L595.8,1228.7 L596.3,1225.7 L596.8,1222.8 L597.3,1219.8 L597.7,1216.9 L598.2,1213.9 L598.6,1210.9 L599.0,1207.9 L599.5,1205.0 L599.9,1202.0 L600.3,1199.0 L600.7,1196.0 L601.1,1193.1 L601.5,1190.1 L601.9,1187.1 L602.2,1184.1 L602.6,1181.2 L602.9,1178.2 L603.3,1175.2 L603.6,1172.2 L603.9,1169.2 L604.3,1166.2 L604.6,1163.3 L604.9,1160.3 L605.3,1157.3 L605.7,1154.3 L606.0,1151.3 L606.4,1148.4 L606.8,1145.4 L607.3,1142.4 L607.8,1139.5 L608.2,1136.5 L608.8,1133.5 L609.3,1130.6 L609.8,1127.6 L610.4,1124.7 L610.9,1121.7 L611.5,1118.8 L612.0,1115.8 L612.6,1112.9 L613.2,1109.9 L613.8,1107.0 L614.4,1104.1 L615.0,1101.1 L615.6,1098.2 L616.2,1095.2 L616.8,1092.3 L617.5,1089.4 L618.1,1086.4 L618.7,1083.5 L619.4,1080.6 L620.1,1077.6 L620.8,1074.7 L621.5,1071.8 L622.2,1068.9 L622.9,1066.0 L623.7,1063.1 L624.5,1060.2 L625.3,1057.3 L626.1,1054.4 L626.9,1051.5 L627.7,1048.6 L628.5,1045.7 L629.4,1042.9 L630.2,1040.0 L631.0,1037.1 L631.9,1034.2 L632.7,1031.3 L633.6,1028.5 L634.5,1025.6 L635.4,1022.7 L636.3,1019.9 L637.2,1017.0 L638.1,1014.2 L639.1,1011.3 L640.0,1008.4 L641.0,1005.6 L642.0,1002.8 L643.1,1000.0 L644.1,997.2 L645.3,994.4 L646.5,991.6 L647.8,988.9 L649.1,986.3 L650.5,983.6 L651.9,980.9 L653.2,978.2 L654.4,975.5 L655.5,972.7 L656.5,969.9 L657.4,967.0 L658.4,964.1 L659.4,961.3 L660.4,958.4 L661.4,955.4 L662.4,952.5 L663.6,949.8 L665.1,947.4 L667.3,945.6 L670.2,944.0 L672.8,942.3 L674.3,940.2 L675.2,937.2 L676.0,933.9 L676.9,931.1 L678.4,929.2 L681.3,927.9 L684.5,926.8 L687.1,925.4 L688.4,922.6 L689.6,920.0 L691.5,921.6 L694.0,924.3 L696.5,924.9 L699.0,923.7 L701.5,921.6 L704.0,919.5 L706.5,917.7 L709.0,915.9 L711.5,914.3 L714.1,913.0 L716.8,911.7 L719.6,910.6 L722.5,909.5 L725.4,908.5 L728.3,907.7 L731.2,907.1 L734.1,906.7 L737.1,906.4 L740.1,906.1 L743.1,905.8 L746.1,905.5 L749.1,905.1 L752.0,904.6 L754.9,903.8 L757.7,902.8 L760.6,901.7 L763.4,900.6 L766.2,899.5 L768.9,898.3 L771.6,897.0 L774.3,895.6 L777.0,894.3 L779.8,893.0 L782.5,891.9 L785.3,890.9 L788.2,890.1 L791.0,889.3 L793.9,888.6 L796.8,888.0 L799.8,887.3 L802.7,886.7 L805.7,886.2 L808.7,885.6 L811.6,885.0 L814.6,884.5 L817.6,883.9 L820.5,883.4 L823.5,882.8 L826.4,882.2 L829.4,881.6 L832.3,881.0 L835.3,880.4 L838.2,879.8 L841.1,879.2 L844.1,878.6 L847.0,878.0 L850.0,877.5 L852.9,877.0 L855.9,876.5 L858.9,876.0 L861.8,875.5 L864.8,875.0 L867.7,874.6 L870.7,874.1 L873.7,873.7 L876.6,873.2 L879.6,872.7 L882.6,872.3 L885.5,871.8 L888.5,871.4 L891.5,870.9 L894.4,870.4 L897.4,869.9 L900.4,869.4 L903.3,868.9 L906.3,868.4 L909.2,867.8 L912.2,867.3 L915.1,866.7 L918.1,866.2 L921.0,865.6 L924.0,865.1 L926.9,864.5 L929.9,864.0 L932.8,863.5 L935.8,863.0 L938.8,862.6 L941.7,862.1 L944.7,861.6 L947.7,861.2 L950.6,860.7 L953.6,860.2 L956.6,859.8 L959.5,859.3 L962.5,858.9 L965.5,858.5 L968.4,858.0 L971.4,857.6 L974.4,857.2 L977.4,856.7 L980.3,856.3 L983.3,855.9 L986.3,855.5 L989.2,855.0 L992.2,854.6 L995.2,854.2 L998.2,853.8 L1001.1,853.3 L1004.1,852.9 L1007.1,852.5 L1010.0,852.1 L1013.0,851.6 L1016.0,851.2 L1018.9,850.8 L1021.9,850.3 L1024.9,849.9 L1027.9,849.5 L1030.8,849.0 L1033.8,848.6 L1036.8,848.2 L1039.8,847.8 L1042.7,847.3 L1045.7,846.9 L1048.7,846.5 L1051.6,846.1 L1054.6,845.7 L1057.6,845.3 L1060.6,844.9 L1063.5,844.5 L1066.5,844.1 L1069.5,843.7 L1072.5,843.3 L1075.4,842.9 L1078.4,842.5 L1081.4,842.2 L1084.4,841.8 L1087.4,841.4 L1090.3,841.1 L1093.3,840.7 L1096.3,840.4 L1099.3,840.1 L1102.3,839.8 L1105.2,839.4 L1108.2,839.1 L1111.2,838.8 L1114.2,838.5 L1117.2,838.2 L1120.2,837.9 L1123.2,837.6 L1126.1,837.3 L1129.1,837.0 L1132.1,836.7 L1135.1,836.4 L1138.1,836.1 L1141.1,835.8 L1144.1,835.5 L1147.1,835.2 L1150.0,834.9 L1153.0,834.7 L1156.0,834.4 L1159.0,834.1 L1162.0,833.9 L1165.0,833.6 L1168.0,833.4 L1171.0,833.1 L1174.0,832.9 L1177.0,832.6 L1180.0,832.4 L1183.0,832.2 L1186.0,832.0 L1188.9,831.8 L1191.9,831.5 L1194.9,831.3 L1197.9,831.1 L1200.9,830.9 L1203.9,830.8 L1206.9,830.6 L1209.9,830.4 L1212.9,830.2 L1215.9,830.0 L1218.9,829.9 L1221.9,829.7 L1224.9,829.5 L1227.9,829.4 L1230.9,829.2 L1233.9,829.1 L1236.9,828.9 L1239.9,828.7 L1242.9,828.6 L1245.9,828.5 L1248.9,828.3 L1251.9,828.2 L1254.9,828.0 L1257.9,827.9 L1260.9,827.7 L1263.9,827.6 L1266.9,827.5 L1269.9,827.3 L1272.9,827.2 L1275.9,827.1 L1278.9,826.9 L1281.9,826.8 L1284.8,826.7 L1287.8,826.5 L1290.8,826.4 L1293.8,826.3 L1296.8,826.1 L1299.8,826.0 L1302.8,825.9 L1305.8,825.7 L1308.8,825.6 L1311.8,825.5 L1314.8,825.3 L1317.8,825.2 L1320.8,825.1 L1323.8,824.9 L1326.8,824.8 L1329.8,824.7 L1332.8,824.6 L1335.8,824.4 L1338.8,824.3 L1341.8,824.2 L1344.8,824.0 L1347.8,823.9 L1350.8,823.8 L1353.8,823.7 L1356.8,823.6 L1359.8,823.4 L1362.8,823.3 L1365.8,823.2 L1368.8,823.1 L1371.8,823.0 L1374.8,822.9 L1377.8,822.8 L1380.8,822.6 L1383.8,822.5 L1386.8,822.4 L1389.8,822.3 L1392.8,822.2 L1395.8,822.1 L1398.8,822.0 L1401.8,821.9 L1404.8,821.8 L1407.8,821.8 L1410.8,821.7 L1413.8,821.6 L1416.8,821.5 L1419.8,821.4 L1422.8,821.3 L1425.8,821.2 L1428.8,821.1 L1431.8,821.0 L1434.8,820.9 L1437.8,820.8 L1440.8,820.8 L1443.8,820.7 L1446.8,820.6 L1449.8,820.5 L1452.8,820.4 L1455.8,820.3 L1458.8,820.2 L1461.8,820.1 L1464.8,820.1 L1467.8,820.0 L1470.8,819.9 L1473.8,819.8 L1476.8,819.7 L1479.8,819.6 L1482.8,819.6 L1485.8,819.5 L1488.8,819.4 L1491.8,819.3 L1494.8,819.2 L1497.8,819.1 L1500.8,819.1 L1503.8,819.0 L1506.8,818.9 L1509.8,818.8 L1512.8,818.7 L1515.8,818.7 L1518.8,818.6 L1521.8,818.5 L1524.8,818.4 L1527.8,818.3 L1530.8,818.3 L1533.8,818.2 L1536.8,818.1 L1539.8,818.0 L1542.8,818.0 L1545.8,817.9 L1548.8,817.8 L1551.8,817.7 L1554.8,817.7 L1557.8,817.6 L1560.8,817.5 L1563.8,817.4 L1566.8,817.4 L1569.8,817.3 L1572.8,817.2 L1575.8,817.2 L1578.8,817.1 L1581.8,817.0 L1584.8,816.9 L1587.8,816.9 L1590.8,816.8 L1593.8,816.7 L1596.8,816.7 L1599.8,816.6 L1602.8,816.5 L1605.8,816.5 L1608.8,816.4 L1611.8,816.3 L1614.8,816.3 L1617.8,816.2 L1620.8,816.1 L1623.8,816.1 L1626.8,816.0 L1629.8,815.9 L1632.8,815.9 L1635.8,815.8 L1638.8,815.8 L1641.8,815.7 L1644.8,815.6 L1647.9,815.6 L1650.9,815.5 L1653.9,815.4 L1656.9,815.4 L1659.9,815.3 L1662.9,815.3 L1665.9,815.2 L1668.9,815.2 L1671.9,815.1 L1674.9,815.0 L1677.9,815.0 L1680.9,814.9 L1683.9,814.9 L1686.9,814.8 L1689.9,814.8 L1692.9,814.7 L1695.9,814.6 L1698.9,814.6 L1701.9,814.5 L1704.9,814.5 L1707.9,814.4 L1710.9,814.4 L1713.9,814.3 L1716.9,814.3 L1719.9,814.2 L1722.9,814.2 L1725.9,814.1 L1728.9,814.1 L1731.9,814.0 L1734.9,814.0 L1737.9,813.9 L1740.9,813.9 L1743.9,813.8 L1746.9,813.8 L1749.9,813.7 L1752.9,813.7 L1755.9,813.7 L1758.9,813.6 L1761.9,813.6 L1764.9,813.5 L1767.9,813.5 L1770.9,813.4 L1773.9,813.4 L1776.9,813.3 L1779.9,813.3 L1782.9,813.2 L1785.9,813.2 L1788.9,813.1 L1791.9,813.1 L1794.9,813.1 L1797.9,813.0 L1800.9,813.0 L1803.9,812.9 L1806.9,812.9 L1809.9,812.8 L1812.9,812.8 L1815.9,812.8 L1818.9,812.7 L1821.9,812.7 L1824.9,812.6 L1827.9,812.6 L1830.9,812.5 L1833.9,812.5 L1836.9,812.5 L1839.9,812.4 L1842.9,812.4 L1845.9,812.3 L1848.9,812.3 L1851.9,812.3 L1854.9,812.2 L1857.9,812.2 L1860.9,812.1 L1863.9,812.1 L1866.9,812.1 L1869.9,812.0 L1872.9,812.0 L1875.9,811.9 L1878.9,811.9 L1881.9,811.9 L1884.9,811.8 L1887.9,811.8 L1890.9,811.7 L1893.9,811.7 L1896.9,811.7 L1899.9,811.6 L1902.9,811.6 L1905.9,811.6 L1908.9,811.5 L1911.9,811.5 L1914.9,811.5 L1917.9,811.4 L1920.9,811.4 L1923.9,811.4 L1927.0,811.3 L1930.0,811.3 L1933.0,811.3 L1936.0,811.2 L1939.0,811.2 L1942.0,811.2 L1945.0,811.1 L1948.0,811.1 L1951.0,811.1 L1954.0,811.0 L1957.0,811.0 L1960.0,811.0 L1963.0,811.0 L1966.0,810.9 L1969.0,810.9 L1972.0,810.9 L1975.0,810.8 L1978.0,810.8 L1981.0,810.8 L1984.0,810.8 L1987.0,810.7 L1990.0,810.7 L1993.0,810.7 L1996.0,810.7 L1999.0,810.6 L2002.0,810.6 L2005.0,810.6 L2008.0,810.6 L2011.0,810.5 L2014.0,810.5 L2017.0,810.5 L2020.0,810.5 L2023.0,810.5 L2026.0,810.4 L2029.0,810.4 L2032.0,810.4"/>
</g>
<text class="tk" transform="translate(312.6,1460.8) scale(1,1.02)" text-anchor="middle">200</text>
<text class="tk" transform="translate(557.7,1460.8) scale(1,1.02)" text-anchor="middle">300</text>
<text class="tk" transform="translate(802.9,1460.8) scale(1,1.02)" text-anchor="middle">400</text>
<text class="tk" transform="translate(1048.0,1460.8) scale(1,1.02)" text-anchor="middle">500</text>
<text class="tk" transform="translate(1293.2,1460.8) scale(1,1.02)" text-anchor="middle">600</text>
<text class="tk" transform="translate(1538.3,1460.8) scale(1,1.02)" text-anchor="middle">700</text>
<text class="tk" transform="translate(1783.5,1460.8) scale(1,1.02)" text-anchor="middle">800</text>
<text class="tk" transform="translate(2028.6,1460.8) scale(1,1.02)" text-anchor="middle">900</text>
<text class="tk" transform="translate(288.0,1388.6) scale(1,1.02)" text-anchor="end">0</text>
<text class="tk" transform="translate(288.0,1130.6) scale(1,1.02)" text-anchor="end">20</text>
<text class="tk" transform="translate(288.0,872.6) scale(1,1.02)" text-anchor="end">40</text>
<text class="tk" transform="translate(288.0,614.7) scale(1,1.02)" text-anchor="end">60</text>
<text class="tk" transform="translate(288.0,356.7) scale(1,1.02)" text-anchor="end">80</text>
<text class="tk" transform="translate(288.0,98.7) scale(1,1.02)" text-anchor="end">100</text>
<text class="lab" style="font-size:94.6px" transform="translate(1170,1580.5) scale(1,1.044)" text-anchor="middle">Wavelength (nm)</text>
<text class="lab" style="font-size:93.7px" transform="translate(127,720.8) rotate(-90) scale(1,1.054)" text-anchor="middle">Transmittance (%T)</text>
<rect x="1119.6" y="871.2" width="872.4" height="451.3" fill="#fff" stroke="#1c1c1c" stroke-width="4.8"/>
<line x1="1134.8" y1="922.2" x2="1293.2" y2="922.2" stroke="#0072bd" stroke-width="10.5"/>
<text class="leg" transform="translate(1305.6,950.0) scale(1,1.03)" x="0.0 47.2 94.4 112.6 134.4 185.3 236.1 272.5 290.7 323.4 356.0 381.8 426.5 460.8 479.4 516.7 554.0 591.2" y="0">HDI-GO5.sc.PT.1000</text>
<line x1="1134.8" y1="1009.7" x2="1293.2" y2="1009.7" stroke="#fa4f0a" stroke-width="10.5"/>
<text class="leg" transform="translate(1305.6,1037.5) scale(1,1.03)" x="0.0 47.2 94.4 112.6 134.4 185.3 236.1 272.5 290.7 323.4 356.0 381.8 426.5 460.8 479.4 516.7 554.0 591.2" y="0">HDI-GO5.sc.PT.1800</text>
<line x1="1134.8" y1="1097.1" x2="1293.2" y2="1097.1" stroke="#ffaf00" stroke-width="10.5"/>
<text class="leg" transform="translate(1305.6,1124.9) scale(1,1.03)" x="0.0 47.2 94.4 112.6 134.4 185.3 236.1 272.5 290.7 323.4 356.0 381.8 419.1 463.8 498.1 516.7 554.0 591.2 628.5" y="0">HDI-GO5.sc.nPT.1800</text>
<line x1="1134.8" y1="1184.6" x2="1293.2" y2="1184.6" stroke="#8e2a96" stroke-width="10.5"/>
<text class="leg" transform="translate(1305.6,1212.4) scale(1,1.03)" x="0.0 47.2 94.4 112.6 134.4 185.3 236.1 272.5 290.7 323.4 356.0 381.8 419.1 463.8 498.1 516.7 554.0 591.2 628.5" y="0">HDI-GO5.sc.nPT.1000</text>
<line x1="1134.8" y1="1272.0" x2="1293.2" y2="1272.0" stroke="#58b013" stroke-width="10.5"/>
<text class="leg" transform="translate(1305.6,1299.8) scale(1,1.03)" x="0.0 47.1 94.3 112.4 134.1 184.9 235.6 271.9 290.1 326.4" y="0">HDI-GO5.dc</text>
</svg>
</body>
</html>
